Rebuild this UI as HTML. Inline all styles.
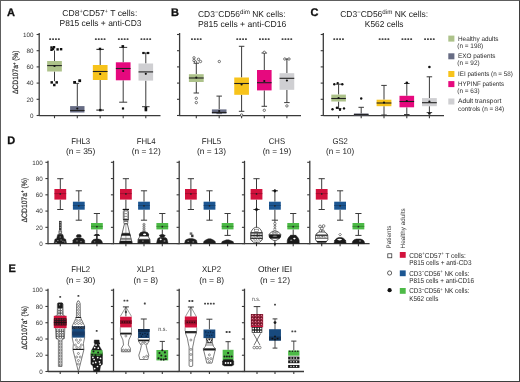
<!DOCTYPE html>
<html><head><meta charset="utf-8"><style>
html,body{margin:0;padding:0;background:#fff;}
body{width:520px;height:382px;overflow:hidden;position:relative;font-family:"Liberation Sans", sans-serif;}
.frame{position:absolute;left:0;top:0;width:518px;height:380px;border:1px solid #5e5e5e;border-right-color:#3e3e3e;border-bottom-color:#3e3e3e;}
svg{position:absolute;left:0;top:0;display:block;text-rendering:geometricPrecision;will-change:transform;}
</style></head><body>
<svg width="520" height="382" viewBox="0 0 520 382" font-family='"Liberation Sans", sans-serif'>
<rect x="0" y="0" width="520" height="382" fill="#fff"/>
<text x="7.0" y="15.7" font-size="11" text-anchor="start" font-weight="bold" fill="#111" stroke="#111" stroke-width="0.3" >A</text>
<text x="170.9" y="16.0" font-size="11" text-anchor="start" font-weight="bold" fill="#111" stroke="#111" stroke-width="0.3" >B</text>
<text x="310.6" y="15.8" font-size="11" text-anchor="start" font-weight="bold" fill="#111" stroke="#111" stroke-width="0.3" >C</text>
<text x="7.2" y="143.8" font-size="11" text-anchor="start" font-weight="bold" fill="#111" stroke="#111" stroke-width="0.3" >D</text>
<text x="8.4" y="271.6" font-size="11" text-anchor="start" font-weight="bold" fill="#111" stroke="#111" stroke-width="0.3" >E</text>
<text x="62.3" y="16.0" font-size="8.6" text-anchor="start" font-weight="normal" fill="#222" textLength="75" lengthAdjust="spacingAndGlyphs" >CD8<tspan dy="-2.9" font-size="5.6">+</tspan><tspan dy="2.9">CD57</tspan><tspan dy="-2.9" font-size="5.6">+</tspan><tspan dy="2.9"> T cells:</tspan></text>
<text x="59.5" y="25.8" font-size="8.6" text-anchor="start" font-weight="normal" fill="#222" textLength="82" lengthAdjust="spacingAndGlyphs" >P815 cells + anti-CD3</text>
<text x="198.0" y="16.5" font-size="8.6" text-anchor="start" font-weight="normal" fill="#222" textLength="87.6" lengthAdjust="spacingAndGlyphs" >CD3<tspan dy="-2.9" font-size="6.0">−</tspan><tspan dy="2.9">CD56</tspan><tspan dy="-2.9" font-size="6.3">dim</tspan><tspan dy="2.9"> NK cells:</tspan></text>
<text x="198.0" y="26.5" font-size="8.6" text-anchor="start" font-weight="normal" fill="#222" textLength="88.2" lengthAdjust="spacingAndGlyphs" >P815 cells + anti-CD16</text>
<text x="340.2" y="16.5" font-size="8.6" text-anchor="start" font-weight="normal" fill="#222" textLength="88" lengthAdjust="spacingAndGlyphs" >CD3<tspan dy="-2.9" font-size="6.0">−</tspan><tspan dy="2.9">CD56</tspan><tspan dy="-2.9" font-size="6.3">dim</tspan><tspan dy="2.9"> NK cells:</tspan></text>
<text x="364.8" y="26.5" font-size="8.6" text-anchor="start" font-weight="normal" fill="#222" textLength="38.7" lengthAdjust="spacingAndGlyphs" >K562 cells</text>
<line x1="39.2" y1="33.0" x2="39.2" y2="116.1" stroke="#3a3a3a" stroke-width="1.3"/>
<line x1="36.6" y1="115.5" x2="39.2" y2="115.5" stroke="#3a3a3a" stroke-width="1.1"/>
<text x="33.6" y="117.7" font-size="6.3" text-anchor="end" font-weight="normal" fill="#333" >0</text>
<line x1="36.6" y1="99.3" x2="39.2" y2="99.3" stroke="#3a3a3a" stroke-width="1.1"/>
<text x="33.6" y="101.5" font-size="6.3" text-anchor="end" font-weight="normal" fill="#333" >20</text>
<line x1="36.6" y1="83.1" x2="39.2" y2="83.1" stroke="#3a3a3a" stroke-width="1.1"/>
<text x="33.6" y="85.3" font-size="6.3" text-anchor="end" font-weight="normal" fill="#333" >40</text>
<line x1="36.6" y1="66.9" x2="39.2" y2="66.9" stroke="#3a3a3a" stroke-width="1.1"/>
<text x="33.6" y="69.10000000000001" font-size="6.3" text-anchor="end" font-weight="normal" fill="#333" >60</text>
<line x1="36.6" y1="50.7" x2="39.2" y2="50.7" stroke="#3a3a3a" stroke-width="1.1"/>
<text x="33.6" y="52.900000000000006" font-size="6.3" text-anchor="end" font-weight="normal" fill="#333" >80</text>
<line x1="36.6" y1="34.5" x2="39.2" y2="34.5" stroke="#3a3a3a" stroke-width="1.1"/>
<text x="33.6" y="36.7" font-size="6.3" text-anchor="end" font-weight="normal" fill="#333" >100</text>
<text transform="translate(18.4,72.2) rotate(-90)" font-size="7.8" text-anchor="middle" fill="#2a2a2a" stroke="#2a2a2a" stroke-width="0.18" textLength="43.4" lengthAdjust="spacingAndGlyphs">ΔCD107a<tspan dy="-2.4" font-size="4.8">+</tspan><tspan dy="2.4"> (%)</tspan></text>
<line x1="39.2" y1="115.6" x2="160.5" y2="115.6" stroke="#3a3a3a" stroke-width="1.4"/>
<line x1="54.5" y1="115.6" x2="54.5" y2="118.19999999999999" stroke="#3a3a3a" stroke-width="1.1"/>
<line x1="77.3" y1="115.6" x2="77.3" y2="118.19999999999999" stroke="#3a3a3a" stroke-width="1.1"/>
<line x1="100.2" y1="115.6" x2="100.2" y2="118.19999999999999" stroke="#3a3a3a" stroke-width="1.1"/>
<line x1="123.2" y1="115.6" x2="123.2" y2="118.19999999999999" stroke="#3a3a3a" stroke-width="1.1"/>
<line x1="145.8" y1="115.6" x2="145.8" y2="118.19999999999999" stroke="#3a3a3a" stroke-width="1.1"/>
<line x1="54.5" y1="50.5" x2="54.5" y2="61.0" stroke="#3a3a3a" stroke-width="1.0"/>
<line x1="54.5" y1="71.5" x2="54.5" y2="81.2" stroke="#3a3a3a" stroke-width="1.0"/>
<rect x="47.15" y="61.0" width="14.7" height="10.5" fill="#adc28a" stroke="none" stroke-width="0"/>
<line x1="47.15" y1="65.6" x2="61.85" y2="65.6" stroke="#222" stroke-width="1.1"/>
<circle cx="54.5" cy="66.0" r="1.1" fill="#111"/>
<line x1="77.3" y1="83.4" x2="77.3" y2="106.1" stroke="#3a3a3a" stroke-width="1.0"/>
<line x1="77.3" y1="112.5" x2="77.3" y2="112.5" stroke="#3a3a3a" stroke-width="1.0"/>
<rect x="70.1" y="106.1" width="14.4" height="6.400000000000006" fill="#676c84" stroke="none" stroke-width="0"/>
<line x1="70.1" y1="110.5" x2="84.5" y2="110.5" stroke="#222" stroke-width="1.1"/>
<circle cx="77.3" cy="108.5" r="1.1" fill="#111"/>
<line x1="100.2" y1="49.0" x2="100.2" y2="65.0" stroke="#3a3a3a" stroke-width="1.0"/>
<line x1="100.2" y1="80.0" x2="100.2" y2="109.5" stroke="#3a3a3a" stroke-width="1.0"/>
<rect x="92.85000000000001" y="65.0" width="14.7" height="15.0" fill="#f7c31b" stroke="none" stroke-width="0"/>
<line x1="92.85000000000001" y1="71.5" x2="107.55" y2="71.5" stroke="#222" stroke-width="1.1"/>
<circle cx="100.2" cy="74.0" r="1.1" fill="#111"/>
<line x1="123.2" y1="47.4" x2="123.2" y2="62.3" stroke="#3a3a3a" stroke-width="1.0"/>
<line x1="123.2" y1="80.3" x2="123.2" y2="102.2" stroke="#3a3a3a" stroke-width="1.0"/>
<line x1="119.2" y1="47.4" x2="127.2" y2="47.4" stroke="#3a3a3a" stroke-width="1.0"/>
<line x1="119.2" y1="102.2" x2="127.2" y2="102.2" stroke="#3a3a3a" stroke-width="1.0"/>
<rect x="115.85000000000001" y="62.3" width="14.7" height="18.0" fill="#e6097e" stroke="none" stroke-width="0"/>
<line x1="115.85000000000001" y1="68.5" x2="130.55" y2="68.5" stroke="#222" stroke-width="1.1"/>
<circle cx="123.2" cy="71.0" r="1.1" fill="#111"/>
<line x1="145.8" y1="53.0" x2="145.8" y2="63.5" stroke="#3a3a3a" stroke-width="1.0"/>
<line x1="145.8" y1="80.6" x2="145.8" y2="106.7" stroke="#3a3a3a" stroke-width="1.0"/>
<line x1="142.0" y1="53.0" x2="149.60000000000002" y2="53.0" stroke="#3a3a3a" stroke-width="1.0"/>
<line x1="142.0" y1="106.7" x2="149.60000000000002" y2="106.7" stroke="#3a3a3a" stroke-width="1.0"/>
<rect x="138.5" y="63.5" width="14.6" height="17.099999999999994" fill="#cfcfd2" stroke="none" stroke-width="0"/>
<line x1="138.5" y1="71.9" x2="153.10000000000002" y2="71.9" stroke="#222" stroke-width="1.1"/>
<circle cx="145.8" cy="73.8" r="1.1" fill="#111"/>
<rect x="50.3" y="46.3" width="2.4" height="2.4" fill="#111"/>
<rect x="51.8" y="47.8" width="2.4" height="2.4" fill="#111"/>
<rect x="50.3" y="48.599999999999994" width="2.4" height="2.4" fill="#111"/>
<rect x="52.8" y="46.0" width="2.4" height="2.4" fill="#111"/>
<rect x="56.4" y="48.199999999999996" width="2.4" height="2.4" fill="#111"/>
<rect x="59.9" y="48.0" width="2.4" height="2.4" fill="#111"/>
<rect x="50.45" y="81.15" width="2.5" height="2.5" fill="#111"/>
<rect x="55.45" y="81.15" width="2.5" height="2.5" fill="#111"/>
<rect x="53.05" y="83.75" width="2.5" height="2.5" fill="#111"/>
<rect x="73.19999999999999" y="81.0" width="2.8" height="2.8" fill="#111"/>
<rect x="78.3" y="79.3" width="2.8" height="2.8" fill="#111"/>
<line x1="75.9" y1="83.4" x2="79.1" y2="83.4" stroke="#3a3a3a" stroke-width="0.9"/>
<line x1="96.4" y1="49.4" x2="103.8" y2="49.4" stroke="#3a3a3a" stroke-width="1.2"/>
<rect x="98.8" y="47.699999999999996" width="2.4" height="2.4" fill="#111"/>
<line x1="96.3" y1="110.1" x2="104.0" y2="110.1" stroke="#3a3a3a" stroke-width="1.2"/>
<rect x="99.1" y="108.89999999999999" width="2.4" height="2.4" fill="#111"/>
<rect x="121.5" y="45.1" width="2.6" height="2.6" fill="#111"/>
<rect x="121.9" y="107.4" width="2.2" height="2.2" fill="#111"/>
<rect x="142.4" y="51.9" width="2.2" height="2.2" fill="#111"/>
<rect x="146.9" y="51.9" width="2.2" height="2.2" fill="#111"/>
<rect x="144.6" y="106.7" width="2.6" height="2.6" fill="#111"/>
<rect x="144.6" y="108.7" width="2.6" height="2.6" fill="#111"/>
<rect x="49.20" y="38.30" width="1.9" height="1.8" rx="0.5" fill="#464646"/>
<rect x="52.10" y="38.30" width="1.9" height="1.8" rx="0.5" fill="#464646"/>
<rect x="55.00" y="38.30" width="1.9" height="1.8" rx="0.5" fill="#464646"/>
<rect x="57.90" y="38.30" width="1.9" height="1.8" rx="0.5" fill="#464646"/>
<rect x="94.90" y="38.30" width="1.9" height="1.8" rx="0.5" fill="#464646"/>
<rect x="97.80" y="38.30" width="1.9" height="1.8" rx="0.5" fill="#464646"/>
<rect x="100.70" y="38.30" width="1.9" height="1.8" rx="0.5" fill="#464646"/>
<rect x="103.60" y="38.30" width="1.9" height="1.8" rx="0.5" fill="#464646"/>
<rect x="117.90" y="38.30" width="1.9" height="1.8" rx="0.5" fill="#464646"/>
<rect x="120.80" y="38.30" width="1.9" height="1.8" rx="0.5" fill="#464646"/>
<rect x="123.70" y="38.30" width="1.9" height="1.8" rx="0.5" fill="#464646"/>
<rect x="126.60" y="38.30" width="1.9" height="1.8" rx="0.5" fill="#464646"/>
<rect x="140.50" y="38.30" width="1.9" height="1.8" rx="0.5" fill="#464646"/>
<rect x="143.40" y="38.30" width="1.9" height="1.8" rx="0.5" fill="#464646"/>
<rect x="146.30" y="38.30" width="1.9" height="1.8" rx="0.5" fill="#464646"/>
<rect x="149.20" y="38.30" width="1.9" height="1.8" rx="0.5" fill="#464646"/>
<line x1="179.6" y1="33.0" x2="179.6" y2="116.1" stroke="#3a3a3a" stroke-width="1.3"/>
<line x1="177.0" y1="115.5" x2="179.6" y2="115.5" stroke="#3a3a3a" stroke-width="1.1"/>
<line x1="177.0" y1="99.3" x2="179.6" y2="99.3" stroke="#3a3a3a" stroke-width="1.1"/>
<line x1="177.0" y1="83.1" x2="179.6" y2="83.1" stroke="#3a3a3a" stroke-width="1.1"/>
<line x1="177.0" y1="66.9" x2="179.6" y2="66.9" stroke="#3a3a3a" stroke-width="1.1"/>
<line x1="177.0" y1="50.7" x2="179.6" y2="50.7" stroke="#3a3a3a" stroke-width="1.1"/>
<line x1="177.0" y1="34.5" x2="179.6" y2="34.5" stroke="#3a3a3a" stroke-width="1.1"/>
<line x1="179.6" y1="115.6" x2="301.0" y2="115.6" stroke="#3a3a3a" stroke-width="1.4"/>
<line x1="196.3" y1="115.6" x2="196.3" y2="118.19999999999999" stroke="#3a3a3a" stroke-width="1.1"/>
<line x1="219.2" y1="115.6" x2="219.2" y2="118.19999999999999" stroke="#3a3a3a" stroke-width="1.1"/>
<line x1="241.6" y1="115.6" x2="241.6" y2="118.19999999999999" stroke="#3a3a3a" stroke-width="1.1"/>
<line x1="264.3" y1="115.6" x2="264.3" y2="118.19999999999999" stroke="#3a3a3a" stroke-width="1.1"/>
<line x1="286.9" y1="115.6" x2="286.9" y2="118.19999999999999" stroke="#3a3a3a" stroke-width="1.1"/>
<line x1="196.3" y1="63.2" x2="196.3" y2="74.2" stroke="#3a3a3a" stroke-width="1.0"/>
<line x1="196.3" y1="82.0" x2="196.3" y2="93.0" stroke="#3a3a3a" stroke-width="1.0"/>
<line x1="193.55" y1="63.2" x2="199.05" y2="63.2" stroke="#3a3a3a" stroke-width="1.0"/>
<line x1="193.55" y1="93.0" x2="199.05" y2="93.0" stroke="#3a3a3a" stroke-width="1.0"/>
<rect x="188.9" y="74.2" width="14.8" height="7.799999999999997" fill="#adc28a" stroke="none" stroke-width="0"/>
<line x1="188.9" y1="78.0" x2="203.70000000000002" y2="78.0" stroke="#222" stroke-width="1.1"/>
<circle cx="196.3" cy="77.6" r="1.1" fill="#111"/>
<line x1="219.2" y1="96.1" x2="219.2" y2="109.4" stroke="#3a3a3a" stroke-width="1.0"/>
<line x1="219.2" y1="113.6" x2="219.2" y2="113.6" stroke="#3a3a3a" stroke-width="1.0"/>
<line x1="216.45" y1="96.1" x2="221.95" y2="96.1" stroke="#3a3a3a" stroke-width="1.0"/>
<line x1="216.45" y1="113.6" x2="221.95" y2="113.6" stroke="#3a3a3a" stroke-width="1.0"/>
<rect x="211.89999999999998" y="109.4" width="14.6" height="4.199999999999989" fill="#676c84" stroke="none" stroke-width="0"/>
<line x1="211.89999999999998" y1="112.5" x2="226.5" y2="112.5" stroke="#222" stroke-width="1.1"/>
<circle cx="219.2" cy="111.0" r="1.1" fill="#111"/>
<line x1="241.6" y1="46.3" x2="241.6" y2="77.5" stroke="#3a3a3a" stroke-width="1.0"/>
<line x1="241.6" y1="94.8" x2="241.6" y2="111.3" stroke="#3a3a3a" stroke-width="1.0"/>
<line x1="238.85" y1="46.3" x2="244.35" y2="46.3" stroke="#3a3a3a" stroke-width="1.0"/>
<line x1="238.85" y1="111.3" x2="244.35" y2="111.3" stroke="#3a3a3a" stroke-width="1.0"/>
<rect x="234.25" y="77.5" width="14.7" height="17.299999999999997" fill="#f7c31b" stroke="none" stroke-width="0"/>
<line x1="234.25" y1="83.5" x2="248.95" y2="83.5" stroke="#222" stroke-width="1.1"/>
<circle cx="241.6" cy="84.5" r="1.1" fill="#111"/>
<line x1="264.3" y1="53.0" x2="264.3" y2="70.0" stroke="#3a3a3a" stroke-width="1.0"/>
<line x1="264.3" y1="90.4" x2="264.3" y2="106.3" stroke="#3a3a3a" stroke-width="1.0"/>
<line x1="261.55" y1="53.0" x2="267.05" y2="53.0" stroke="#3a3a3a" stroke-width="1.0"/>
<line x1="261.55" y1="106.3" x2="267.05" y2="106.3" stroke="#3a3a3a" stroke-width="1.0"/>
<rect x="257.0" y="70.0" width="14.6" height="20.400000000000006" fill="#e6097e" stroke="none" stroke-width="0"/>
<line x1="257.0" y1="82.7" x2="271.6" y2="82.7" stroke="#222" stroke-width="1.1"/>
<circle cx="264.3" cy="81.0" r="1.1" fill="#111"/>
<line x1="286.9" y1="59.0" x2="286.9" y2="73.2" stroke="#3a3a3a" stroke-width="1.0"/>
<line x1="286.9" y1="89.8" x2="286.9" y2="102.6" stroke="#3a3a3a" stroke-width="1.0"/>
<line x1="284.15" y1="59.0" x2="289.65" y2="59.0" stroke="#3a3a3a" stroke-width="1.0"/>
<line x1="284.15" y1="102.6" x2="289.65" y2="102.6" stroke="#3a3a3a" stroke-width="1.0"/>
<rect x="279.54999999999995" y="73.2" width="14.7" height="16.599999999999994" fill="#cfcfd2" stroke="none" stroke-width="0"/>
<line x1="279.54999999999995" y1="78.3" x2="294.25" y2="78.3" stroke="#222" stroke-width="1.1"/>
<circle cx="286.9" cy="80.5" r="1.1" fill="#111"/>
<circle cx="194" cy="57.8" r="1.2" fill="white" stroke="#222" stroke-width="0.6"/>
<circle cx="194" cy="60.5" r="1.2" fill="white" stroke="#222" stroke-width="0.6"/>
<circle cx="198.5" cy="59.3" r="1.2" fill="white" stroke="#222" stroke-width="0.6"/>
<circle cx="200.5" cy="61.5" r="1.2" fill="white" stroke="#222" stroke-width="0.6"/>
<circle cx="195.5" cy="62.0" r="1.2" fill="white" stroke="#222" stroke-width="0.6"/>
<circle cx="196.3" cy="98.3" r="1.2" fill="white" stroke="#222" stroke-width="0.6"/>
<circle cx="196.3" cy="102.6" r="1.2" fill="white" stroke="#222" stroke-width="0.6"/>
<circle cx="219.3" cy="61.5" r="1.2" fill="white" stroke="#222" stroke-width="0.6"/>
<circle cx="241.6" cy="115.0" r="1.2" fill="white" stroke="#222" stroke-width="0.6"/>
<circle cx="264.3" cy="52.3" r="1.2" fill="white" stroke="#222" stroke-width="0.6"/>
<circle cx="264.3" cy="110.3" r="1.2" fill="white" stroke="#222" stroke-width="0.6"/>
<circle cx="286.9" cy="105.9" r="1.2" fill="white" stroke="#222" stroke-width="0.6"/>
<circle cx="284.8" cy="59" r="1.2" fill="white" stroke="#222" stroke-width="0.6"/>
<circle cx="289" cy="59" r="1.2" fill="white" stroke="#222" stroke-width="0.6"/>
<rect x="191.00" y="38.30" width="1.9" height="1.8" rx="0.5" fill="#464646"/>
<rect x="193.90" y="38.30" width="1.9" height="1.8" rx="0.5" fill="#464646"/>
<rect x="196.80" y="38.30" width="1.9" height="1.8" rx="0.5" fill="#464646"/>
<rect x="199.70" y="38.30" width="1.9" height="1.8" rx="0.5" fill="#464646"/>
<rect x="236.30" y="38.30" width="1.9" height="1.8" rx="0.5" fill="#464646"/>
<rect x="239.20" y="38.30" width="1.9" height="1.8" rx="0.5" fill="#464646"/>
<rect x="242.10" y="38.30" width="1.9" height="1.8" rx="0.5" fill="#464646"/>
<rect x="245.00" y="38.30" width="1.9" height="1.8" rx="0.5" fill="#464646"/>
<rect x="259.00" y="38.30" width="1.9" height="1.8" rx="0.5" fill="#464646"/>
<rect x="261.90" y="38.30" width="1.9" height="1.8" rx="0.5" fill="#464646"/>
<rect x="264.80" y="38.30" width="1.9" height="1.8" rx="0.5" fill="#464646"/>
<rect x="267.70" y="38.30" width="1.9" height="1.8" rx="0.5" fill="#464646"/>
<rect x="281.60" y="38.30" width="1.9" height="1.8" rx="0.5" fill="#464646"/>
<rect x="284.50" y="38.30" width="1.9" height="1.8" rx="0.5" fill="#464646"/>
<rect x="287.40" y="38.30" width="1.9" height="1.8" rx="0.5" fill="#464646"/>
<rect x="290.30" y="38.30" width="1.9" height="1.8" rx="0.5" fill="#464646"/>
<line x1="323.3" y1="33.0" x2="323.3" y2="116.1" stroke="#3a3a3a" stroke-width="1.3"/>
<line x1="320.7" y1="115.5" x2="323.3" y2="115.5" stroke="#3a3a3a" stroke-width="1.1"/>
<line x1="320.7" y1="99.3" x2="323.3" y2="99.3" stroke="#3a3a3a" stroke-width="1.1"/>
<line x1="320.7" y1="83.1" x2="323.3" y2="83.1" stroke="#3a3a3a" stroke-width="1.1"/>
<line x1="320.7" y1="66.9" x2="323.3" y2="66.9" stroke="#3a3a3a" stroke-width="1.1"/>
<line x1="320.7" y1="50.7" x2="323.3" y2="50.7" stroke="#3a3a3a" stroke-width="1.1"/>
<line x1="320.7" y1="34.5" x2="323.3" y2="34.5" stroke="#3a3a3a" stroke-width="1.1"/>
<line x1="323.3" y1="115.6" x2="444.0" y2="115.6" stroke="#3a3a3a" stroke-width="1.4"/>
<line x1="338.6" y1="115.6" x2="338.6" y2="118.19999999999999" stroke="#3a3a3a" stroke-width="1.1"/>
<line x1="361.2" y1="115.6" x2="361.2" y2="118.19999999999999" stroke="#3a3a3a" stroke-width="1.1"/>
<line x1="384.0" y1="115.6" x2="384.0" y2="118.19999999999999" stroke="#3a3a3a" stroke-width="1.1"/>
<line x1="406.8" y1="115.6" x2="406.8" y2="118.19999999999999" stroke="#3a3a3a" stroke-width="1.1"/>
<line x1="429.4" y1="115.6" x2="429.4" y2="118.19999999999999" stroke="#3a3a3a" stroke-width="1.1"/>
<line x1="338.6" y1="84.2" x2="338.6" y2="94.6" stroke="#3a3a3a" stroke-width="1.0"/>
<line x1="338.6" y1="101.5" x2="338.6" y2="108.5" stroke="#3a3a3a" stroke-width="1.0"/>
<line x1="335.85" y1="84.2" x2="341.35" y2="84.2" stroke="#3a3a3a" stroke-width="1.0"/>
<line x1="335.85" y1="108.5" x2="341.35" y2="108.5" stroke="#3a3a3a" stroke-width="1.0"/>
<rect x="331.3" y="94.6" width="14.6" height="6.900000000000006" fill="#adc28a" stroke="none" stroke-width="0"/>
<line x1="331.3" y1="98.5" x2="345.90000000000003" y2="98.5" stroke="#222" stroke-width="1.1"/>
<circle cx="338.6" cy="98.0" r="1.1" fill="#111"/>
<line x1="361.2" y1="107.3" x2="361.2" y2="113.6" stroke="#3a3a3a" stroke-width="1.0"/>
<line x1="361.2" y1="115.3" x2="361.2" y2="115.3" stroke="#3a3a3a" stroke-width="1.0"/>
<line x1="358.45" y1="107.3" x2="363.95" y2="107.3" stroke="#3a3a3a" stroke-width="1.0"/>
<line x1="358.45" y1="115.3" x2="363.95" y2="115.3" stroke="#3a3a3a" stroke-width="1.0"/>
<rect x="353.9" y="113.6" width="14.6" height="1.7000000000000028" fill="#676c84" stroke="none" stroke-width="0"/>
<line x1="353.9" y1="114.4" x2="368.5" y2="114.4" stroke="#222" stroke-width="1.1"/>
<line x1="384.0" y1="85.4" x2="384.0" y2="99.7" stroke="#3a3a3a" stroke-width="1.0"/>
<line x1="384.0" y1="106.2" x2="384.0" y2="115.0" stroke="#3a3a3a" stroke-width="1.0"/>
<line x1="381.25" y1="85.4" x2="386.75" y2="85.4" stroke="#3a3a3a" stroke-width="1.0"/>
<line x1="381.25" y1="115.0" x2="386.75" y2="115.0" stroke="#3a3a3a" stroke-width="1.0"/>
<rect x="376.6" y="99.7" width="14.8" height="6.5" fill="#f7c31b" stroke="none" stroke-width="0"/>
<line x1="376.6" y1="103.0" x2="391.4" y2="103.0" stroke="#222" stroke-width="1.1"/>
<circle cx="384.0" cy="102.6" r="1.1" fill="#111"/>
<line x1="406.8" y1="83.5" x2="406.8" y2="95.8" stroke="#3a3a3a" stroke-width="1.0"/>
<line x1="406.8" y1="107.3" x2="406.8" y2="114.5" stroke="#3a3a3a" stroke-width="1.0"/>
<line x1="404.05" y1="83.5" x2="409.55" y2="83.5" stroke="#3a3a3a" stroke-width="1.0"/>
<line x1="404.05" y1="114.5" x2="409.55" y2="114.5" stroke="#3a3a3a" stroke-width="1.0"/>
<rect x="399.5" y="95.8" width="14.6" height="11.5" fill="#e6097e" stroke="none" stroke-width="0"/>
<line x1="399.5" y1="101.5" x2="414.1" y2="101.5" stroke="#222" stroke-width="1.1"/>
<circle cx="406.8" cy="101.0" r="1.1" fill="#111"/>
<line x1="429.4" y1="76.8" x2="429.4" y2="98.1" stroke="#3a3a3a" stroke-width="1.0"/>
<line x1="429.4" y1="106.2" x2="429.4" y2="112.6" stroke="#3a3a3a" stroke-width="1.0"/>
<line x1="426.65" y1="76.8" x2="432.15" y2="76.8" stroke="#3a3a3a" stroke-width="1.0"/>
<line x1="426.65" y1="112.6" x2="432.15" y2="112.6" stroke="#3a3a3a" stroke-width="1.0"/>
<rect x="422.0" y="98.1" width="14.8" height="8.100000000000009" fill="#cfcfd2" stroke="none" stroke-width="0"/>
<line x1="422.0" y1="102.7" x2="436.79999999999995" y2="102.7" stroke="#222" stroke-width="1.1"/>
<circle cx="429.4" cy="101.6" r="1.1" fill="#111"/>
<circle cx="334.3" cy="84.2" r="1.2" fill="#111"/>
<circle cx="337.7" cy="83.1" r="1.2" fill="#111"/>
<circle cx="342.3" cy="84.2" r="1.2" fill="#111"/>
<circle cx="332.5" cy="109.2" r="1.2" fill="#111"/>
<circle cx="337" cy="107.6" r="1.2" fill="#111"/>
<circle cx="340" cy="109.8" r="1.2" fill="#111"/>
<circle cx="344" cy="108.4" r="1.2" fill="#111"/>
<circle cx="361.2" cy="98.5" r="1.2" fill="#111"/>
<circle cx="406.8" cy="82.7" r="1.3" fill="#111"/>
<circle cx="429.4" cy="67.0" r="1.3" fill="#111"/>
<circle cx="429.4" cy="113.5" r="1.3" fill="#111"/>
<rect x="333.30" y="38.30" width="1.9" height="1.8" rx="0.5" fill="#464646"/>
<rect x="336.20" y="38.30" width="1.9" height="1.8" rx="0.5" fill="#464646"/>
<rect x="339.10" y="38.30" width="1.9" height="1.8" rx="0.5" fill="#464646"/>
<rect x="342.00" y="38.30" width="1.9" height="1.8" rx="0.5" fill="#464646"/>
<rect x="378.70" y="38.30" width="1.9" height="1.8" rx="0.5" fill="#464646"/>
<rect x="381.60" y="38.30" width="1.9" height="1.8" rx="0.5" fill="#464646"/>
<rect x="384.50" y="38.30" width="1.9" height="1.8" rx="0.5" fill="#464646"/>
<rect x="387.40" y="38.30" width="1.9" height="1.8" rx="0.5" fill="#464646"/>
<rect x="401.50" y="38.30" width="1.9" height="1.8" rx="0.5" fill="#464646"/>
<rect x="404.40" y="38.30" width="1.9" height="1.8" rx="0.5" fill="#464646"/>
<rect x="407.30" y="38.30" width="1.9" height="1.8" rx="0.5" fill="#464646"/>
<rect x="410.20" y="38.30" width="1.9" height="1.8" rx="0.5" fill="#464646"/>
<rect x="424.10" y="38.30" width="1.9" height="1.8" rx="0.5" fill="#464646"/>
<rect x="427.00" y="38.30" width="1.9" height="1.8" rx="0.5" fill="#464646"/>
<rect x="429.90" y="38.30" width="1.9" height="1.8" rx="0.5" fill="#464646"/>
<rect x="432.80" y="38.30" width="1.9" height="1.8" rx="0.5" fill="#464646"/>
<rect x="448.3" y="35.6" width="6.1" height="6.0" fill="#adc28a" stroke="none" stroke-width="0"/>
<text x="458.0" y="40.5" font-size="6.6" text-anchor="start" font-weight="normal" fill="#2a2a2a" textLength="40.4" lengthAdjust="spacingAndGlyphs" >Healthy adults</text>
<text x="457.3" y="47.7" font-size="6.6" text-anchor="start" font-weight="normal" fill="#2a2a2a" textLength="25.9" lengthAdjust="spacingAndGlyphs" >(n = 198)</text>
<rect x="448.3" y="53.3" width="6.1" height="6.0" fill="#676c84" stroke="none" stroke-width="0"/>
<text x="458.0" y="58.199999999999996" font-size="6.6" text-anchor="start" font-weight="normal" fill="#2a2a2a" textLength="37.5" lengthAdjust="spacingAndGlyphs" >EXO patients</text>
<text x="457.3" y="65.39999999999999" font-size="6.6" text-anchor="start" font-weight="normal" fill="#2a2a2a" textLength="22.3" lengthAdjust="spacingAndGlyphs" >(n = 92)</text>
<rect x="448.3" y="71.0" width="6.1" height="6.0" fill="#f7c31b" stroke="none" stroke-width="0"/>
<text x="458.0" y="75.9" font-size="6.6" text-anchor="start" font-weight="normal" fill="#2a2a2a" textLength="54.8" lengthAdjust="spacingAndGlyphs" >IEI patients (n = 58)</text>
<rect x="448.3" y="81.1" width="6.1" height="6.0" fill="#e6097e" stroke="none" stroke-width="0"/>
<text x="458.0" y="86.0" font-size="6.6" text-anchor="start" font-weight="normal" fill="#2a2a2a" textLength="46.1" lengthAdjust="spacingAndGlyphs" >HYPINF patients</text>
<text x="457.3" y="93.2" font-size="6.6" text-anchor="start" font-weight="normal" fill="#2a2a2a" textLength="22.3" lengthAdjust="spacingAndGlyphs" >(n = 63)</text>
<rect x="448.3" y="98.5" width="6.1" height="6.0" fill="#cfcfd2" stroke="none" stroke-width="0"/>
<text x="458.0" y="103.4" font-size="6.6" text-anchor="start" font-weight="normal" fill="#2a2a2a" textLength="43.3" lengthAdjust="spacingAndGlyphs" >Adult transport</text>
<text x="458.0" y="110.60000000000001" font-size="6.6" text-anchor="start" font-weight="normal" fill="#2a2a2a" textLength="46.1" lengthAdjust="spacingAndGlyphs" >controls (n = 84)</text>
<line x1="48.0" y1="160.8" x2="48.0" y2="244.2" stroke="#3a3a3a" stroke-width="1.3"/>
<line x1="45.4" y1="243.6" x2="48.0" y2="243.6" stroke="#3a3a3a" stroke-width="1.1"/>
<text x="42.8" y="245.79999999999998" font-size="6.3" text-anchor="end" font-weight="normal" fill="#333" >0</text>
<line x1="45.4" y1="227.34" x2="48.0" y2="227.34" stroke="#3a3a3a" stroke-width="1.1"/>
<text x="42.8" y="229.54" font-size="6.3" text-anchor="end" font-weight="normal" fill="#333" >20</text>
<line x1="45.4" y1="211.07999999999998" x2="48.0" y2="211.07999999999998" stroke="#3a3a3a" stroke-width="1.1"/>
<text x="42.8" y="213.27999999999997" font-size="6.3" text-anchor="end" font-weight="normal" fill="#333" >40</text>
<line x1="45.4" y1="194.82" x2="48.0" y2="194.82" stroke="#3a3a3a" stroke-width="1.1"/>
<text x="42.8" y="197.01999999999998" font-size="6.3" text-anchor="end" font-weight="normal" fill="#333" >60</text>
<line x1="45.4" y1="178.56" x2="48.0" y2="178.56" stroke="#3a3a3a" stroke-width="1.1"/>
<text x="42.8" y="180.76" font-size="6.3" text-anchor="end" font-weight="normal" fill="#333" >80</text>
<line x1="45.4" y1="162.3" x2="48.0" y2="162.3" stroke="#3a3a3a" stroke-width="1.1"/>
<text x="42.8" y="164.5" font-size="6.3" text-anchor="end" font-weight="normal" fill="#333" >100</text>
<line x1="48.0" y1="243.6" x2="113.5" y2="243.6" stroke="#3a3a3a" stroke-width="1.4"/>
<line x1="60.3" y1="243.6" x2="60.3" y2="246.2" stroke="#3a3a3a" stroke-width="1.1"/>
<line x1="78.8" y1="243.6" x2="78.8" y2="246.2" stroke="#3a3a3a" stroke-width="1.1"/>
<line x1="96.9" y1="243.6" x2="96.9" y2="246.2" stroke="#3a3a3a" stroke-width="1.1"/>
<text x="80.7" y="144.1" font-size="8.4" text-anchor="middle" font-weight="normal" fill="#222" textLength="19.0" lengthAdjust="spacingAndGlyphs" >FHL3</text>
<text x="80.7" y="154.4" font-size="8.4" text-anchor="middle" font-weight="normal" fill="#222" textLength="29.4" lengthAdjust="spacingAndGlyphs" >(n = 35)</text>
<line x1="113.5" y1="160.8" x2="113.5" y2="244.2" stroke="#3a3a3a" stroke-width="1.3"/>
<line x1="110.9" y1="243.6" x2="113.5" y2="243.6" stroke="#3a3a3a" stroke-width="1.1"/>
<line x1="110.9" y1="227.34" x2="113.5" y2="227.34" stroke="#3a3a3a" stroke-width="1.1"/>
<line x1="110.9" y1="211.07999999999998" x2="113.5" y2="211.07999999999998" stroke="#3a3a3a" stroke-width="1.1"/>
<line x1="110.9" y1="194.82" x2="113.5" y2="194.82" stroke="#3a3a3a" stroke-width="1.1"/>
<line x1="110.9" y1="178.56" x2="113.5" y2="178.56" stroke="#3a3a3a" stroke-width="1.1"/>
<line x1="110.9" y1="162.3" x2="113.5" y2="162.3" stroke="#3a3a3a" stroke-width="1.1"/>
<line x1="113.5" y1="243.6" x2="179.2" y2="243.6" stroke="#3a3a3a" stroke-width="1.4"/>
<line x1="125.9" y1="243.6" x2="125.9" y2="246.2" stroke="#3a3a3a" stroke-width="1.1"/>
<line x1="144.0" y1="243.6" x2="144.0" y2="246.2" stroke="#3a3a3a" stroke-width="1.1"/>
<line x1="162.3" y1="243.6" x2="162.3" y2="246.2" stroke="#3a3a3a" stroke-width="1.1"/>
<text x="146.2" y="144.1" font-size="8.4" text-anchor="middle" font-weight="normal" fill="#222" textLength="19.0" lengthAdjust="spacingAndGlyphs" >FHL4</text>
<text x="146.2" y="154.4" font-size="8.4" text-anchor="middle" font-weight="normal" fill="#222" textLength="29.0" lengthAdjust="spacingAndGlyphs" >(n = 12)</text>
<line x1="179.2" y1="160.8" x2="179.2" y2="244.2" stroke="#3a3a3a" stroke-width="1.3"/>
<line x1="176.6" y1="243.6" x2="179.2" y2="243.6" stroke="#3a3a3a" stroke-width="1.1"/>
<line x1="176.6" y1="227.34" x2="179.2" y2="227.34" stroke="#3a3a3a" stroke-width="1.1"/>
<line x1="176.6" y1="211.07999999999998" x2="179.2" y2="211.07999999999998" stroke="#3a3a3a" stroke-width="1.1"/>
<line x1="176.6" y1="194.82" x2="179.2" y2="194.82" stroke="#3a3a3a" stroke-width="1.1"/>
<line x1="176.6" y1="178.56" x2="179.2" y2="178.56" stroke="#3a3a3a" stroke-width="1.1"/>
<line x1="176.6" y1="162.3" x2="179.2" y2="162.3" stroke="#3a3a3a" stroke-width="1.1"/>
<line x1="179.2" y1="243.6" x2="244.5" y2="243.6" stroke="#3a3a3a" stroke-width="1.4"/>
<line x1="190.9" y1="243.6" x2="190.9" y2="246.2" stroke="#3a3a3a" stroke-width="1.1"/>
<line x1="209.5" y1="243.6" x2="209.5" y2="246.2" stroke="#3a3a3a" stroke-width="1.1"/>
<line x1="227.6" y1="243.6" x2="227.6" y2="246.2" stroke="#3a3a3a" stroke-width="1.1"/>
<text x="211.5" y="144.1" font-size="8.4" text-anchor="middle" font-weight="normal" fill="#222" textLength="19.3" lengthAdjust="spacingAndGlyphs" >FHL5</text>
<text x="211.5" y="154.4" font-size="8.4" text-anchor="middle" font-weight="normal" fill="#222" textLength="28.9" lengthAdjust="spacingAndGlyphs" >(n = 13)</text>
<line x1="244.5" y1="160.8" x2="244.5" y2="244.2" stroke="#3a3a3a" stroke-width="1.3"/>
<line x1="241.9" y1="243.6" x2="244.5" y2="243.6" stroke="#3a3a3a" stroke-width="1.1"/>
<line x1="241.9" y1="227.34" x2="244.5" y2="227.34" stroke="#3a3a3a" stroke-width="1.1"/>
<line x1="241.9" y1="211.07999999999998" x2="244.5" y2="211.07999999999998" stroke="#3a3a3a" stroke-width="1.1"/>
<line x1="241.9" y1="194.82" x2="244.5" y2="194.82" stroke="#3a3a3a" stroke-width="1.1"/>
<line x1="241.9" y1="178.56" x2="244.5" y2="178.56" stroke="#3a3a3a" stroke-width="1.1"/>
<line x1="241.9" y1="162.3" x2="244.5" y2="162.3" stroke="#3a3a3a" stroke-width="1.1"/>
<line x1="244.5" y1="243.6" x2="309.8" y2="243.6" stroke="#3a3a3a" stroke-width="1.4"/>
<line x1="256.5" y1="243.6" x2="256.5" y2="246.2" stroke="#3a3a3a" stroke-width="1.1"/>
<line x1="274.9" y1="243.6" x2="274.9" y2="246.2" stroke="#3a3a3a" stroke-width="1.1"/>
<line x1="293.2" y1="243.6" x2="293.2" y2="246.2" stroke="#3a3a3a" stroke-width="1.1"/>
<text x="276.9" y="144.1" font-size="8.4" text-anchor="middle" font-weight="normal" fill="#222" textLength="16.2" lengthAdjust="spacingAndGlyphs" >CHS</text>
<text x="276.9" y="154.4" font-size="8.4" text-anchor="middle" font-weight="normal" fill="#222" textLength="28.5" lengthAdjust="spacingAndGlyphs" >(n = 19)</text>
<line x1="309.8" y1="160.8" x2="309.8" y2="244.2" stroke="#3a3a3a" stroke-width="1.3"/>
<line x1="307.2" y1="243.6" x2="309.8" y2="243.6" stroke="#3a3a3a" stroke-width="1.1"/>
<line x1="307.2" y1="227.34" x2="309.8" y2="227.34" stroke="#3a3a3a" stroke-width="1.1"/>
<line x1="307.2" y1="211.07999999999998" x2="309.8" y2="211.07999999999998" stroke="#3a3a3a" stroke-width="1.1"/>
<line x1="307.2" y1="194.82" x2="309.8" y2="194.82" stroke="#3a3a3a" stroke-width="1.1"/>
<line x1="307.2" y1="178.56" x2="309.8" y2="178.56" stroke="#3a3a3a" stroke-width="1.1"/>
<line x1="307.2" y1="162.3" x2="309.8" y2="162.3" stroke="#3a3a3a" stroke-width="1.1"/>
<line x1="309.8" y1="243.6" x2="369.6" y2="243.6" stroke="#3a3a3a" stroke-width="1.4"/>
<line x1="321.7" y1="243.6" x2="321.7" y2="246.2" stroke="#3a3a3a" stroke-width="1.1"/>
<line x1="340.1" y1="243.6" x2="340.1" y2="246.2" stroke="#3a3a3a" stroke-width="1.1"/>
<line x1="358.4" y1="243.6" x2="358.4" y2="246.2" stroke="#3a3a3a" stroke-width="1.1"/>
<text x="340.1" y="144.1" font-size="8.4" text-anchor="middle" font-weight="normal" fill="#222" textLength="15.4" lengthAdjust="spacingAndGlyphs" >GS2</text>
<text x="340.1" y="154.4" font-size="8.4" text-anchor="middle" font-weight="normal" fill="#222" textLength="28.0" lengthAdjust="spacingAndGlyphs" >(n = 10)</text>
<line x1="60.3" y1="178.7" x2="60.3" y2="189.0" stroke="#3a3a3a" stroke-width="1.0"/>
<line x1="60.3" y1="199.6" x2="60.3" y2="209.5" stroke="#3a3a3a" stroke-width="1.0"/>
<line x1="57.199999999999996" y1="178.7" x2="63.4" y2="178.7" stroke="#3a3a3a" stroke-width="1.0"/>
<line x1="57.199999999999996" y1="209.5" x2="63.4" y2="209.5" stroke="#3a3a3a" stroke-width="1.0"/>
<rect x="54.4" y="189.0" width="11.8" height="10.599999999999994" fill="#d2123d" stroke="none" stroke-width="0"/>
<line x1="54.4" y1="193.6" x2="66.2" y2="193.6" stroke="#8e0c2a" stroke-width="0.7"/>
<circle cx="60.3" cy="193.9" r="0.85" fill="#222"/>
<line x1="78.8" y1="190.8" x2="78.8" y2="201.7" stroke="#3a3a3a" stroke-width="1.0"/>
<line x1="78.8" y1="209.7" x2="78.8" y2="220.2" stroke="#3a3a3a" stroke-width="1.0"/>
<line x1="75.7" y1="190.8" x2="81.89999999999999" y2="190.8" stroke="#3a3a3a" stroke-width="1.0"/>
<line x1="75.7" y1="220.2" x2="81.89999999999999" y2="220.2" stroke="#3a3a3a" stroke-width="1.0"/>
<rect x="72.89999999999999" y="201.7" width="11.8" height="8.0" fill="#1c5692" stroke="none" stroke-width="0"/>
<line x1="72.89999999999999" y1="205.5" x2="84.7" y2="205.5" stroke="#143e6a" stroke-width="0.7"/>
<circle cx="78.8" cy="205.8" r="0.85" fill="#222"/>
<line x1="96.9" y1="213.5" x2="96.9" y2="223.0" stroke="#3a3a3a" stroke-width="1.0"/>
<line x1="96.9" y1="229.4" x2="96.9" y2="235.4" stroke="#3a3a3a" stroke-width="1.0"/>
<line x1="93.80000000000001" y1="213.5" x2="100.0" y2="213.5" stroke="#3a3a3a" stroke-width="1.0"/>
<line x1="93.80000000000001" y1="235.4" x2="100.0" y2="235.4" stroke="#3a3a3a" stroke-width="1.0"/>
<rect x="91.0" y="223.0" width="11.8" height="6.400000000000006" fill="#4dba47" stroke="none" stroke-width="0"/>
<line x1="91.0" y1="226.4" x2="102.80000000000001" y2="226.4" stroke="#2e7e2a" stroke-width="0.7"/>
<circle cx="96.9" cy="226.70000000000002" r="0.85" fill="#222"/>
<line x1="125.9" y1="178.7" x2="125.9" y2="189.0" stroke="#3a3a3a" stroke-width="1.0"/>
<line x1="125.9" y1="199.6" x2="125.9" y2="209.5" stroke="#3a3a3a" stroke-width="1.0"/>
<line x1="122.80000000000001" y1="178.7" x2="129.0" y2="178.7" stroke="#3a3a3a" stroke-width="1.0"/>
<line x1="122.80000000000001" y1="209.5" x2="129.0" y2="209.5" stroke="#3a3a3a" stroke-width="1.0"/>
<rect x="120.0" y="189.0" width="11.8" height="10.599999999999994" fill="#d2123d" stroke="none" stroke-width="0"/>
<line x1="120.0" y1="193.6" x2="131.8" y2="193.6" stroke="#8e0c2a" stroke-width="0.7"/>
<circle cx="125.9" cy="193.9" r="0.85" fill="#222"/>
<line x1="144.0" y1="190.8" x2="144.0" y2="201.7" stroke="#3a3a3a" stroke-width="1.0"/>
<line x1="144.0" y1="209.7" x2="144.0" y2="220.2" stroke="#3a3a3a" stroke-width="1.0"/>
<line x1="140.9" y1="190.8" x2="147.1" y2="190.8" stroke="#3a3a3a" stroke-width="1.0"/>
<line x1="140.9" y1="220.2" x2="147.1" y2="220.2" stroke="#3a3a3a" stroke-width="1.0"/>
<rect x="138.1" y="201.7" width="11.8" height="8.0" fill="#1c5692" stroke="none" stroke-width="0"/>
<line x1="138.1" y1="205.5" x2="149.9" y2="205.5" stroke="#143e6a" stroke-width="0.7"/>
<circle cx="144.0" cy="205.8" r="0.85" fill="#222"/>
<line x1="162.3" y1="213.5" x2="162.3" y2="223.0" stroke="#3a3a3a" stroke-width="1.0"/>
<line x1="162.3" y1="229.4" x2="162.3" y2="235.4" stroke="#3a3a3a" stroke-width="1.0"/>
<line x1="159.20000000000002" y1="213.5" x2="165.4" y2="213.5" stroke="#3a3a3a" stroke-width="1.0"/>
<line x1="159.20000000000002" y1="235.4" x2="165.4" y2="235.4" stroke="#3a3a3a" stroke-width="1.0"/>
<rect x="156.4" y="223.0" width="11.8" height="6.400000000000006" fill="#4dba47" stroke="none" stroke-width="0"/>
<line x1="156.4" y1="226.4" x2="168.20000000000002" y2="226.4" stroke="#2e7e2a" stroke-width="0.7"/>
<circle cx="162.3" cy="226.70000000000002" r="0.85" fill="#222"/>
<line x1="190.9" y1="178.7" x2="190.9" y2="189.0" stroke="#3a3a3a" stroke-width="1.0"/>
<line x1="190.9" y1="199.6" x2="190.9" y2="209.5" stroke="#3a3a3a" stroke-width="1.0"/>
<line x1="187.8" y1="178.7" x2="194.0" y2="178.7" stroke="#3a3a3a" stroke-width="1.0"/>
<line x1="187.8" y1="209.5" x2="194.0" y2="209.5" stroke="#3a3a3a" stroke-width="1.0"/>
<rect x="185.0" y="189.0" width="11.8" height="10.599999999999994" fill="#d2123d" stroke="none" stroke-width="0"/>
<line x1="185.0" y1="193.6" x2="196.8" y2="193.6" stroke="#8e0c2a" stroke-width="0.7"/>
<circle cx="190.9" cy="193.9" r="0.85" fill="#222"/>
<line x1="209.5" y1="190.8" x2="209.5" y2="201.7" stroke="#3a3a3a" stroke-width="1.0"/>
<line x1="209.5" y1="209.7" x2="209.5" y2="220.2" stroke="#3a3a3a" stroke-width="1.0"/>
<line x1="206.4" y1="190.8" x2="212.6" y2="190.8" stroke="#3a3a3a" stroke-width="1.0"/>
<line x1="206.4" y1="220.2" x2="212.6" y2="220.2" stroke="#3a3a3a" stroke-width="1.0"/>
<rect x="203.6" y="201.7" width="11.8" height="8.0" fill="#1c5692" stroke="none" stroke-width="0"/>
<line x1="203.6" y1="205.5" x2="215.4" y2="205.5" stroke="#143e6a" stroke-width="0.7"/>
<circle cx="209.5" cy="205.8" r="0.85" fill="#222"/>
<line x1="227.6" y1="213.5" x2="227.6" y2="223.0" stroke="#3a3a3a" stroke-width="1.0"/>
<line x1="227.6" y1="229.4" x2="227.6" y2="235.4" stroke="#3a3a3a" stroke-width="1.0"/>
<line x1="224.5" y1="213.5" x2="230.7" y2="213.5" stroke="#3a3a3a" stroke-width="1.0"/>
<line x1="224.5" y1="235.4" x2="230.7" y2="235.4" stroke="#3a3a3a" stroke-width="1.0"/>
<rect x="221.7" y="223.0" width="11.8" height="6.400000000000006" fill="#4dba47" stroke="none" stroke-width="0"/>
<line x1="221.7" y1="226.4" x2="233.5" y2="226.4" stroke="#2e7e2a" stroke-width="0.7"/>
<circle cx="227.6" cy="226.70000000000002" r="0.85" fill="#222"/>
<line x1="256.5" y1="178.7" x2="256.5" y2="189.0" stroke="#3a3a3a" stroke-width="1.0"/>
<line x1="256.5" y1="199.6" x2="256.5" y2="209.5" stroke="#3a3a3a" stroke-width="1.0"/>
<line x1="253.4" y1="178.7" x2="259.6" y2="178.7" stroke="#3a3a3a" stroke-width="1.0"/>
<line x1="253.4" y1="209.5" x2="259.6" y2="209.5" stroke="#3a3a3a" stroke-width="1.0"/>
<rect x="250.6" y="189.0" width="11.8" height="10.599999999999994" fill="#d2123d" stroke="none" stroke-width="0"/>
<line x1="250.6" y1="193.6" x2="262.4" y2="193.6" stroke="#8e0c2a" stroke-width="0.7"/>
<circle cx="256.5" cy="193.9" r="0.85" fill="#222"/>
<line x1="274.9" y1="190.8" x2="274.9" y2="201.7" stroke="#3a3a3a" stroke-width="1.0"/>
<line x1="274.9" y1="209.7" x2="274.9" y2="220.2" stroke="#3a3a3a" stroke-width="1.0"/>
<line x1="271.79999999999995" y1="190.8" x2="278.0" y2="190.8" stroke="#3a3a3a" stroke-width="1.0"/>
<line x1="271.79999999999995" y1="220.2" x2="278.0" y2="220.2" stroke="#3a3a3a" stroke-width="1.0"/>
<rect x="269.0" y="201.7" width="11.8" height="8.0" fill="#1c5692" stroke="none" stroke-width="0"/>
<line x1="269.0" y1="205.5" x2="280.79999999999995" y2="205.5" stroke="#143e6a" stroke-width="0.7"/>
<circle cx="274.9" cy="205.8" r="0.85" fill="#222"/>
<line x1="293.2" y1="213.5" x2="293.2" y2="223.0" stroke="#3a3a3a" stroke-width="1.0"/>
<line x1="293.2" y1="229.4" x2="293.2" y2="235.4" stroke="#3a3a3a" stroke-width="1.0"/>
<line x1="290.09999999999997" y1="213.5" x2="296.3" y2="213.5" stroke="#3a3a3a" stroke-width="1.0"/>
<line x1="290.09999999999997" y1="235.4" x2="296.3" y2="235.4" stroke="#3a3a3a" stroke-width="1.0"/>
<rect x="287.3" y="223.0" width="11.8" height="6.400000000000006" fill="#4dba47" stroke="none" stroke-width="0"/>
<line x1="287.3" y1="226.4" x2="299.09999999999997" y2="226.4" stroke="#2e7e2a" stroke-width="0.7"/>
<circle cx="293.2" cy="226.70000000000002" r="0.85" fill="#222"/>
<line x1="321.7" y1="178.7" x2="321.7" y2="189.0" stroke="#3a3a3a" stroke-width="1.0"/>
<line x1="321.7" y1="199.6" x2="321.7" y2="209.5" stroke="#3a3a3a" stroke-width="1.0"/>
<line x1="318.59999999999997" y1="178.7" x2="324.8" y2="178.7" stroke="#3a3a3a" stroke-width="1.0"/>
<line x1="318.59999999999997" y1="209.5" x2="324.8" y2="209.5" stroke="#3a3a3a" stroke-width="1.0"/>
<rect x="315.8" y="189.0" width="11.8" height="10.599999999999994" fill="#d2123d" stroke="none" stroke-width="0"/>
<line x1="315.8" y1="193.6" x2="327.59999999999997" y2="193.6" stroke="#8e0c2a" stroke-width="0.7"/>
<circle cx="321.7" cy="193.9" r="0.85" fill="#222"/>
<line x1="340.1" y1="190.8" x2="340.1" y2="201.7" stroke="#3a3a3a" stroke-width="1.0"/>
<line x1="340.1" y1="209.7" x2="340.1" y2="220.2" stroke="#3a3a3a" stroke-width="1.0"/>
<line x1="337.0" y1="190.8" x2="343.20000000000005" y2="190.8" stroke="#3a3a3a" stroke-width="1.0"/>
<line x1="337.0" y1="220.2" x2="343.20000000000005" y2="220.2" stroke="#3a3a3a" stroke-width="1.0"/>
<rect x="334.20000000000005" y="201.7" width="11.8" height="8.0" fill="#1c5692" stroke="none" stroke-width="0"/>
<line x1="334.20000000000005" y1="205.5" x2="346.0" y2="205.5" stroke="#143e6a" stroke-width="0.7"/>
<circle cx="340.1" cy="205.8" r="0.85" fill="#222"/>
<line x1="358.4" y1="213.5" x2="358.4" y2="223.0" stroke="#3a3a3a" stroke-width="1.0"/>
<line x1="358.4" y1="229.4" x2="358.4" y2="235.4" stroke="#3a3a3a" stroke-width="1.0"/>
<line x1="355.29999999999995" y1="213.5" x2="361.5" y2="213.5" stroke="#3a3a3a" stroke-width="1.0"/>
<line x1="355.29999999999995" y1="235.4" x2="361.5" y2="235.4" stroke="#3a3a3a" stroke-width="1.0"/>
<rect x="352.5" y="223.0" width="11.8" height="6.400000000000006" fill="#4dba47" stroke="none" stroke-width="0"/>
<line x1="352.5" y1="226.4" x2="364.29999999999995" y2="226.4" stroke="#2e7e2a" stroke-width="0.7"/>
<circle cx="358.4" cy="226.70000000000002" r="0.85" fill="#222"/>
<rect x="59.0" y="220.9" width="2.6" height="9.7" fill="#3a3a3a"/>
<rect x="59.699999999999996" y="222.1" width="1.2" height="1" fill="#aaa"/>
<rect x="59.699999999999996" y="224.5" width="1.2" height="1" fill="#aaa"/>
<rect x="59.699999999999996" y="226.9" width="1.2" height="1" fill="#aaa"/>
<rect x="58.5" y="230.6" width="3.6" height="4.2" fill="#6a6a6a"/>
<rect x="59.5" y="231.6" width="1.6" height="1.4" fill="#ccc"/>
<path d="M57.70,234.60 L57.30,236.00 L56.70,238.40 L54.90,239.20 L54.00,243.40 L66.60,243.40 L65.70,239.20 L63.90,238.40 L63.30,236.00 L62.90,234.60 Z" fill="#1e1e1e" stroke="#1e1e1e" stroke-width="0.4" stroke-linejoin="round"/>
<rect x="57.099999999999994" y="240.1" width="1.4" height="1" fill="#8a8a8a"/>
<rect x="62.199999999999996" y="240.7" width="1.4" height="1" fill="#8a8a8a"/>
<rect x="59.599999999999994" y="236.5" width="1.4" height="1" fill="#8a8a8a"/>
<rect x="55.39999999999999" y="241.9" width="1.4" height="1" fill="#8a8a8a"/>
<rect x="64.0" y="241.5" width="1.4" height="1" fill="#8a8a8a"/>
<rect x="60.39999999999999" y="239.5" width="1.4" height="1" fill="#8a8a8a"/>
<path d="M77.60,234.60 L76.50,235.30 L76.40,236.60 L77.20,237.50 L80.40,237.50 L81.20,236.60 L81.10,235.30 L80.00,234.60 Z" fill="#1e1e1e" stroke="#1e1e1e" stroke-width="0.4" stroke-linejoin="round"/>
<path d="M76.20,238.00 L74.20,238.80 L73.00,240.20 L72.70,243.40 L84.90,243.40 L84.60,240.20 L83.40,238.80 L81.40,238.00 Z" fill="#1e1e1e" stroke="#1e1e1e" stroke-width="0.4" stroke-linejoin="round"/>
<rect x="76.2" y="240.4" width="1.6" height="1" fill="#888"/>
<rect x="80.2" y="241.2" width="1.6" height="1" fill="#888"/>
<line x1="94.7" y1="234.8" x2="99.10000000000001" y2="234.8" stroke="#111" stroke-width="1.3"/>
<line x1="96.9" y1="235.3" x2="96.9" y2="239.0" stroke="#1e1e1e" stroke-width="1.6"/>
<path d="M95.10,239.00 L93.30,239.60 L91.90,241.00 L91.10,243.40 L102.70,243.40 L101.90,241.00 L100.50,239.60 L98.70,239.00 Z" fill="#1e1e1e" stroke="#1e1e1e" stroke-width="0.4" stroke-linejoin="round"/>
<rect x="93.9" y="241.4" width="1.4" height="0.9" fill="#888"/>
<line x1="122.80000000000001" y1="209.5" x2="129.0" y2="209.5" stroke="#111" stroke-width="1.3"/>
<path d="M123.35000000000001,219.6 L123.35000000000001,211.6 Q123.35000000000001,210 125.9,210 Q128.45000000000002,210 128.45000000000002,211.6 L128.45000000000002,219.6 Z" fill="#fff" stroke="#222" stroke-width="0.7"/>
<rect x="124.5" y="211.20000000000002" width="2.8" height="2.2" fill="none" stroke="#666" stroke-width="0.5"/>
<rect x="124.5" y="213.9" width="2.8" height="2.2" fill="none" stroke="#666" stroke-width="0.5"/>
<rect x="124.5" y="216.6" width="2.8" height="2.2" fill="none" stroke="#666" stroke-width="0.5"/>
<line x1="123.2" y1="219.9" x2="128.6" y2="219.9" stroke="#111" stroke-width="1.2"/>
<rect x="123.9" y="221.3" width="4.0" height="2.2" fill="none" stroke="#333" stroke-width="0.6"/>
<path d="M124.40,224.00 L122.10,233.60 L119.70,242.60 L132.10,242.60 L129.70,233.60 L127.40,224.00 Z" fill="white" stroke="#222" stroke-width="0.7" stroke-linejoin="round"/>
<line x1="125.9" y1="224.5" x2="125.9" y2="242.5" stroke="#777" stroke-width="0.6"/>
<path d="M122.30,233.20 L121.30,235.60 L130.50,235.60 L129.50,233.20 Z" fill="#1a1a1a" stroke="#1a1a1a" stroke-width="0.5" stroke-linejoin="round"/>
<path d="M120.90,238.20 L120.50,239.40 L131.30,239.40 L130.90,238.20 Z" fill="#666" stroke="#666" stroke-width="0.4" stroke-linejoin="round"/>
<path d="M120.20,241.00 L119.60,243.40 L132.20,243.40 L131.60,241.00 Z" fill="#1a1a1a" stroke="#1a1a1a" stroke-width="0.5" stroke-linejoin="round"/>
<circle cx="144.0" cy="224.4" r="1.2" fill="#aaa" stroke="#666" stroke-width="0.5"/>
<circle cx="144.0" cy="226.6" r="1.2" fill="#aaa" stroke="#666" stroke-width="0.5"/>
<circle cx="144.0" cy="228.8" r="1.2" fill="#aaa" stroke="#666" stroke-width="0.5"/>
<circle cx="144.0" cy="230.8" r="1.2" fill="#aaa" stroke="#666" stroke-width="0.5"/>
<path d="M142.40,232.00 L140.40,232.80 L139.40,234.60 L139.60,236.60 L139.20,237.60 L138.20,239.20 L138.00,243.40 L150.00,243.40 L149.80,239.20 L148.80,237.60 L148.40,236.60 L148.60,234.60 L147.60,232.80 L145.60,232.00 Z" fill="#fff" stroke="#1e1e1e" stroke-width="0.7" stroke-linejoin="round"/>
<path d="M142.40,232.00 L140.40,232.80 L139.40,234.60 L139.60,236.20 L148.40,236.20 L148.60,234.60 L147.60,232.80 L145.60,232.00 Z" fill="#1e1e1e" stroke="#1e1e1e" stroke-width="0.4" stroke-linejoin="round"/>
<ellipse cx="144.6" cy="234.4" rx="1.6" ry="0.8" fill="#fff"/>
<path d="M138.40,239.20 L138.00,243.40 L150.00,243.40 L149.60,239.20 Z" fill="#1e1e1e" stroke="#1e1e1e" stroke-width="0.4" stroke-linejoin="round"/>
<rect x="142.2" y="240.6" width="1.4" height="1" fill="#999"/>
<path d="M160.90,234.60 L160.10,235.20 L160.10,236.80 L160.70,237.40 L163.90,237.40 L164.50,236.80 L164.50,235.20 L163.70,234.60 Z" fill="#1e1e1e" stroke="#1e1e1e" stroke-width="0.4" stroke-linejoin="round"/>
<path d="M159.30,237.60 L157.70,238.60 L157.10,240.50 L156.50,243.40 L168.10,243.40 L167.50,240.50 L166.90,238.60 L165.30,237.60 Z" fill="#1e1e1e" stroke="#1e1e1e" stroke-width="0.4" stroke-linejoin="round"/>
<ellipse cx="160.70000000000002" cy="239.4" rx="1.0" ry="0.8" fill="#fff"/>
<ellipse cx="164.5" cy="241.0" rx="1.0" ry="0.7" fill="#999"/>
<rect x="189.70000000000002" y="232.4" width="2.6" height="2.4" fill="#666"/>
<rect x="191.1" y="234.6" width="2.4" height="2.6" fill="#333"/>
<path d="M189.30,238.60 L186.90,239.30 L185.30,240.20 L184.50,243.40 L197.30,243.40 L196.50,240.20 L194.90,239.30 L192.50,238.60 Z" fill="#1e1e1e" stroke="#1e1e1e" stroke-width="0.4" stroke-linejoin="round"/>
<rect x="187.5" y="240.8" width="1.6" height="1" fill="#999"/>
<rect x="192.5" y="241.4" width="1.6" height="1" fill="#999"/>
<path d="M208.30,238.70 L206.50,239.60 L204.90,240.60 L203.70,241.60 L203.50,243.40 L215.50,243.40 L215.30,241.60 L214.10,240.60 L212.50,239.60 L210.70,238.70 Z" fill="#1e1e1e" stroke="#1e1e1e" stroke-width="0.4" stroke-linejoin="round"/>
<path d="M226.40,239.80 L224.40,240.60 L222.00,241.60 L221.40,243.40 L233.80,243.40 L233.20,241.60 L230.80,240.60 L228.80,239.80 Z" fill="#1e1e1e" stroke="#1e1e1e" stroke-width="0.4" stroke-linejoin="round"/>
<line x1="256.5" y1="209.5" x2="256.5" y2="227.5" stroke="#3a3a3a" stroke-width="0.9"/>
<path d="M254.6,209.5 L256.5,207.6 L258.4,209.5 L256.5,211.4 Z" fill="#111"/>
<path d="M255.30,227.40 L253.50,228.30 L252.10,230.00 L250.70,232.60 L250.50,239.40 L251.70,240.80 L253.30,242.20 L259.70,242.20 L261.30,240.80 L262.50,239.40 L262.30,232.60 L260.90,230.00 L259.50,228.30 L257.70,227.40 Z" fill="white" stroke="#222" stroke-width="0.7" stroke-linejoin="round"/>
<line x1="250.7" y1="232.8" x2="262.3" y2="232.8" stroke="#1a1a1a" stroke-width="1.2"/>
<line x1="250.7" y1="235.6" x2="262.3" y2="235.6" stroke="#1a1a1a" stroke-width="1.2"/>
<line x1="250.7" y1="238.4" x2="262.3" y2="238.4" stroke="#1a1a1a" stroke-width="1.2"/>
<rect x="251.65" y="233.29999999999998" width="1.9" height="1.6" fill="none" stroke="#555" stroke-width="0.4"/>
<rect x="251.65" y="235.95" width="1.9" height="1.6" fill="none" stroke="#555" stroke-width="0.4"/>
<rect x="251.65" y="238.6" width="1.9" height="1.6" fill="none" stroke="#555" stroke-width="0.4"/>
<rect x="254.25" y="233.29999999999998" width="1.9" height="1.6" fill="none" stroke="#555" stroke-width="0.4"/>
<rect x="254.25" y="235.95" width="1.9" height="1.6" fill="none" stroke="#555" stroke-width="0.4"/>
<rect x="254.25" y="238.6" width="1.9" height="1.6" fill="none" stroke="#555" stroke-width="0.4"/>
<rect x="256.85" y="233.29999999999998" width="1.9" height="1.6" fill="none" stroke="#555" stroke-width="0.4"/>
<rect x="256.85" y="235.95" width="1.9" height="1.6" fill="none" stroke="#555" stroke-width="0.4"/>
<rect x="256.85" y="238.6" width="1.9" height="1.6" fill="none" stroke="#555" stroke-width="0.4"/>
<rect x="259.45" y="233.29999999999998" width="1.9" height="1.6" fill="none" stroke="#555" stroke-width="0.4"/>
<rect x="259.45" y="235.95" width="1.9" height="1.6" fill="none" stroke="#555" stroke-width="0.4"/>
<rect x="259.45" y="238.6" width="1.9" height="1.6" fill="none" stroke="#555" stroke-width="0.4"/>
<rect x="254.6" y="229.2" width="3.8" height="2.2" fill="none" stroke="#444" stroke-width="0.5"/>
<line x1="256.5" y1="242.2" x2="256.5" y2="244.5" stroke="#222" stroke-width="0.9"/>
<path d="M273.0,190.8 L274.9,188.9 L276.79999999999995,190.8 L274.9,192.7 Z" fill="#111"/>
<line x1="274.9" y1="220.2" x2="274.9" y2="228.5" stroke="#3a3a3a" stroke-width="0.9"/>
<circle cx="274.9" cy="223.6" r="1.2" fill="#fff" stroke="#444" stroke-width="0.6"/>
<circle cx="274.9" cy="226.4" r="1.0" fill="#fff" stroke="#444" stroke-width="0.6"/>
<rect x="273.9" y="228.6" width="2.0" height="2.0" fill="none" stroke="#666" stroke-width="0.5"/>
<path d="M272.90,231.20 L270.50,232.70 L269.00,234.60 L269.70,237.80 L272.50,239.80 L273.90,240.60 L275.90,240.60 L277.30,239.80 L280.10,237.80 L280.80,234.60 L279.30,232.70 L276.90,231.20 Z" fill="white" stroke="#222" stroke-width="0.7" stroke-linejoin="round"/>
<path d="M269.30,234.60 L269.10,236.20 L269.90,237.90 L270.90,238.60 L278.90,238.60 L279.90,237.90 L280.70,236.20 L280.50,234.60 Z" fill="#1a1a1a" stroke="#1a1a1a" stroke-width="0.4" stroke-linejoin="round"/>
<ellipse cx="274.9" cy="236.3" rx="2.4" ry="0.8" fill="#777"/>
<circle cx="273.29999999999995" cy="233.0" r="0.95" fill="#fff" stroke="#333" stroke-width="0.5"/>
<circle cx="276.5" cy="233.0" r="0.95" fill="#fff" stroke="#333" stroke-width="0.5"/>
<circle cx="274.9" cy="231.8" r="0.95" fill="#fff" stroke="#333" stroke-width="0.5"/>
<line x1="274.9" y1="240.4" x2="274.9" y2="244.8" stroke="#222" stroke-width="0.9"/>
<path d="M273.59999999999997,243.8 L274.9,242.3 L276.2,243.8 L274.9,245.3 Z" fill="#1a1a1a"/>
<path d="M291.40,235.40 L289.60,236.20 L288.20,238.00 L287.30,240.00 L287.10,243.40 L299.30,243.40 L299.10,240.00 L298.20,238.00 L296.80,236.20 L295.00,235.40 Z" fill="#1a1a1a" stroke="#1a1a1a" stroke-width="0.5" stroke-linejoin="round"/>
<ellipse cx="294.4" cy="238.6" rx="1.2" ry="0.8" fill="#fff"/>
<ellipse cx="291.2" cy="240.2" rx="1.1" ry="0.8" fill="#888"/>
<circle cx="320.0" cy="226.4" r="1.35" fill="#fff" stroke="#333" stroke-width="0.6"/>
<circle cx="323.59999999999997" cy="226.0" r="1.35" fill="#fff" stroke="#333" stroke-width="0.6"/>
<circle cx="321.9" cy="228.6" r="1.35" fill="#fff" stroke="#333" stroke-width="0.6"/>
<circle cx="320.5" cy="231.0" r="1.35" fill="#fff" stroke="#333" stroke-width="0.6"/>
<circle cx="323.09999999999997" cy="231.4" r="1.35" fill="#fff" stroke="#333" stroke-width="0.6"/>
<path d="M319.10,232.00 L317.10,233.00 L315.70,235.00 L315.50,239.50 L316.50,241.00 L317.70,242.60 L325.70,242.60 L326.90,241.00 L327.90,239.50 L327.70,235.00 L326.30,233.00 L324.30,232.00 Z" fill="white" stroke="#222" stroke-width="0.75" stroke-linejoin="round"/>
<line x1="315.8" y1="235.2" x2="327.59999999999997" y2="235.2" stroke="#1a1a1a" stroke-width="1.3"/>
<line x1="315.7" y1="238.3" x2="327.7" y2="238.3" stroke="#333" stroke-width="0.8"/>
<line x1="316.9" y1="241.6" x2="326.5" y2="241.6" stroke="#1a1a1a" stroke-width="1.3"/>
<rect x="317.2" y="236.0" width="1.8" height="1.5" fill="none" stroke="#555" stroke-width="0.4"/>
<rect x="319.6" y="236.0" width="1.8" height="1.5" fill="none" stroke="#555" stroke-width="0.4"/>
<rect x="322.0" y="236.0" width="1.8" height="1.5" fill="none" stroke="#555" stroke-width="0.4"/>
<rect x="324.40000000000003" y="236.0" width="1.8" height="1.5" fill="none" stroke="#555" stroke-width="0.4"/>
<line x1="321.7" y1="242.6" x2="321.7" y2="244.5" stroke="#222" stroke-width="0.9"/>
<path d="M338.8,234.6 L340.1,233.2 L341.40000000000003,234.6 L340.1,236.0 Z" fill="#fff" stroke="#333" stroke-width="0.6"/>
<path d="M338.70,237.40 L336.50,238.40 L334.70,240.20 L334.10,243.20 L346.10,243.20 L345.50,240.20 L343.70,238.40 L341.50,237.40 Z" fill="#1a1a1a" stroke="#1a1a1a" stroke-width="0.5" stroke-linejoin="round"/>
<ellipse cx="339.6" cy="239.6" rx="2.4" ry="0.8" fill="#fff"/>
<path d="M356.40,239.00 L354.60,239.60 L353.00,240.80 L352.40,242.00 L352.20,243.60 L364.60,243.60 L364.40,242.00 L363.80,240.80 L362.20,239.60 L360.40,239.00 Z" fill="#1a1a1a" stroke="#1a1a1a" stroke-width="0.5" stroke-linejoin="round"/>
<ellipse cx="360.0" cy="241.0" rx="1.0" ry="0.7" fill="#888"/>
<line x1="48.0" y1="288.7" x2="48.0" y2="372.1" stroke="#3a3a3a" stroke-width="1.3"/>
<line x1="45.4" y1="371.5" x2="48.0" y2="371.5" stroke="#3a3a3a" stroke-width="1.1"/>
<text x="42.8" y="373.7" font-size="6.3" text-anchor="end" font-weight="normal" fill="#333" >0</text>
<line x1="45.4" y1="355.24" x2="48.0" y2="355.24" stroke="#3a3a3a" stroke-width="1.1"/>
<text x="42.8" y="357.44" font-size="6.3" text-anchor="end" font-weight="normal" fill="#333" >20</text>
<line x1="45.4" y1="338.98" x2="48.0" y2="338.98" stroke="#3a3a3a" stroke-width="1.1"/>
<text x="42.8" y="341.18" font-size="6.3" text-anchor="end" font-weight="normal" fill="#333" >40</text>
<line x1="45.4" y1="322.72" x2="48.0" y2="322.72" stroke="#3a3a3a" stroke-width="1.1"/>
<text x="42.8" y="324.92" font-size="6.3" text-anchor="end" font-weight="normal" fill="#333" >60</text>
<line x1="45.4" y1="306.46000000000004" x2="48.0" y2="306.46000000000004" stroke="#3a3a3a" stroke-width="1.1"/>
<text x="42.8" y="308.66" font-size="6.3" text-anchor="end" font-weight="normal" fill="#333" >80</text>
<line x1="45.4" y1="290.20000000000005" x2="48.0" y2="290.20000000000005" stroke="#3a3a3a" stroke-width="1.1"/>
<text x="42.8" y="292.40000000000003" font-size="6.3" text-anchor="end" font-weight="normal" fill="#333" >100</text>
<line x1="48.0" y1="371.5" x2="113.5" y2="371.5" stroke="#3a3a3a" stroke-width="1.4"/>
<line x1="60.2" y1="371.5" x2="60.2" y2="374.1" stroke="#3a3a3a" stroke-width="1.1"/>
<line x1="78.4" y1="371.5" x2="78.4" y2="374.1" stroke="#3a3a3a" stroke-width="1.1"/>
<line x1="96.7" y1="371.5" x2="96.7" y2="374.1" stroke="#3a3a3a" stroke-width="1.1"/>
<text x="80.7" y="272.2" font-size="8.4" text-anchor="middle" font-weight="normal" fill="#222" textLength="19.0" lengthAdjust="spacingAndGlyphs" >FHL2</text>
<text x="80.7" y="282.5" font-size="8.4" text-anchor="middle" font-weight="normal" fill="#222" textLength="29.4" lengthAdjust="spacingAndGlyphs" >(n = 30)</text>
<line x1="113.5" y1="288.7" x2="113.5" y2="372.1" stroke="#3a3a3a" stroke-width="1.3"/>
<line x1="110.9" y1="371.5" x2="113.5" y2="371.5" stroke="#3a3a3a" stroke-width="1.1"/>
<line x1="110.9" y1="355.24" x2="113.5" y2="355.24" stroke="#3a3a3a" stroke-width="1.1"/>
<line x1="110.9" y1="338.98" x2="113.5" y2="338.98" stroke="#3a3a3a" stroke-width="1.1"/>
<line x1="110.9" y1="322.72" x2="113.5" y2="322.72" stroke="#3a3a3a" stroke-width="1.1"/>
<line x1="110.9" y1="306.46000000000004" x2="113.5" y2="306.46000000000004" stroke="#3a3a3a" stroke-width="1.1"/>
<line x1="110.9" y1="290.20000000000005" x2="113.5" y2="290.20000000000005" stroke="#3a3a3a" stroke-width="1.1"/>
<line x1="113.5" y1="371.5" x2="179.2" y2="371.5" stroke="#3a3a3a" stroke-width="1.4"/>
<line x1="125.9" y1="371.5" x2="125.9" y2="374.1" stroke="#3a3a3a" stroke-width="1.1"/>
<line x1="143.8" y1="371.5" x2="143.8" y2="374.1" stroke="#3a3a3a" stroke-width="1.1"/>
<line x1="162.3" y1="371.5" x2="162.3" y2="374.1" stroke="#3a3a3a" stroke-width="1.1"/>
<text x="145.8" y="272.2" font-size="8.4" text-anchor="middle" font-weight="normal" fill="#222" textLength="18.1" lengthAdjust="spacingAndGlyphs" >XLP1</text>
<text x="145.8" y="282.5" font-size="8.4" text-anchor="middle" font-weight="normal" fill="#222" textLength="24.5" lengthAdjust="spacingAndGlyphs" >(n = 8)</text>
<line x1="179.2" y1="288.7" x2="179.2" y2="372.1" stroke="#3a3a3a" stroke-width="1.3"/>
<line x1="176.6" y1="371.5" x2="179.2" y2="371.5" stroke="#3a3a3a" stroke-width="1.1"/>
<line x1="176.6" y1="355.24" x2="179.2" y2="355.24" stroke="#3a3a3a" stroke-width="1.1"/>
<line x1="176.6" y1="338.98" x2="179.2" y2="338.98" stroke="#3a3a3a" stroke-width="1.1"/>
<line x1="176.6" y1="322.72" x2="179.2" y2="322.72" stroke="#3a3a3a" stroke-width="1.1"/>
<line x1="176.6" y1="306.46000000000004" x2="179.2" y2="306.46000000000004" stroke="#3a3a3a" stroke-width="1.1"/>
<line x1="176.6" y1="290.20000000000005" x2="179.2" y2="290.20000000000005" stroke="#3a3a3a" stroke-width="1.1"/>
<line x1="179.2" y1="371.5" x2="244.5" y2="371.5" stroke="#3a3a3a" stroke-width="1.4"/>
<line x1="190.9" y1="371.5" x2="190.9" y2="374.1" stroke="#3a3a3a" stroke-width="1.1"/>
<line x1="209.4" y1="371.5" x2="209.4" y2="374.1" stroke="#3a3a3a" stroke-width="1.1"/>
<line x1="228.1" y1="371.5" x2="228.1" y2="374.1" stroke="#3a3a3a" stroke-width="1.1"/>
<text x="211.6" y="272.2" font-size="8.4" text-anchor="middle" font-weight="normal" fill="#222" textLength="19.2" lengthAdjust="spacingAndGlyphs" >XLP2</text>
<text x="211.6" y="282.5" font-size="8.4" text-anchor="middle" font-weight="normal" fill="#222" textLength="24.8" lengthAdjust="spacingAndGlyphs" >(n = 8)</text>
<line x1="244.5" y1="288.7" x2="244.5" y2="372.1" stroke="#3a3a3a" stroke-width="1.3"/>
<line x1="241.9" y1="371.5" x2="244.5" y2="371.5" stroke="#3a3a3a" stroke-width="1.1"/>
<line x1="241.9" y1="355.24" x2="244.5" y2="355.24" stroke="#3a3a3a" stroke-width="1.1"/>
<line x1="241.9" y1="338.98" x2="244.5" y2="338.98" stroke="#3a3a3a" stroke-width="1.1"/>
<line x1="241.9" y1="322.72" x2="244.5" y2="322.72" stroke="#3a3a3a" stroke-width="1.1"/>
<line x1="241.9" y1="306.46000000000004" x2="244.5" y2="306.46000000000004" stroke="#3a3a3a" stroke-width="1.1"/>
<line x1="241.9" y1="290.20000000000005" x2="244.5" y2="290.20000000000005" stroke="#3a3a3a" stroke-width="1.1"/>
<line x1="244.5" y1="371.5" x2="304.0" y2="371.5" stroke="#3a3a3a" stroke-width="1.4"/>
<line x1="257.0" y1="371.5" x2="257.0" y2="374.1" stroke="#3a3a3a" stroke-width="1.1"/>
<line x1="275.0" y1="371.5" x2="275.0" y2="374.1" stroke="#3a3a3a" stroke-width="1.1"/>
<line x1="293.8" y1="371.5" x2="293.8" y2="374.1" stroke="#3a3a3a" stroke-width="1.1"/>
<text x="275.0" y="272.2" font-size="8.4" text-anchor="middle" font-weight="normal" fill="#222" textLength="34.2" lengthAdjust="spacingAndGlyphs" >Other IEI</text>
<text x="275.0" y="282.5" font-size="8.4" text-anchor="middle" font-weight="normal" fill="#222" textLength="30.1" lengthAdjust="spacingAndGlyphs" >(n = 12)</text>
<text transform="translate(26.7,327.8) rotate(-90)" font-size="7.8" text-anchor="middle" fill="#2a2a2a" stroke="#2a2a2a" stroke-width="0.18" textLength="43.4" lengthAdjust="spacingAndGlyphs">ΔCD107a<tspan dy="-2.4" font-size="4.8">+</tspan><tspan dy="2.4"> (%)</tspan></text>
<text transform="translate(26.7,200.2) rotate(-90)" font-size="7.8" text-anchor="middle" fill="#2a2a2a" stroke="#2a2a2a" stroke-width="0.18" textLength="44.7" lengthAdjust="spacingAndGlyphs">ΔCD107a<tspan dy="-2.4" font-size="4.8">+</tspan><tspan dy="2.4"> (%)</tspan></text>
<path d="M58.40,302.80 L57.40,304.00 L57.40,308.40 L57.20,315.80 L55.60,315.80 L55.60,328.10 L56.00,338.50 L58.40,339.50 L58.40,366.40 L62.00,366.40 L62.00,339.50 L64.40,338.50 L64.80,328.10 L64.80,315.80 L63.20,315.80 L63.00,308.40 L63.00,304.00 L62.00,302.80 Z" fill="white" stroke="#222" stroke-width="0.6" stroke-linejoin="round"/>
<rect x="57.6" y="302.9" width="5.2" height="5.2" fill="#1a1a1a"/>
<rect x="59.0" y="304.2" width="1.2" height="1.2" fill="#999"/>
<rect x="58.0" y="308.6" width="2.0" height="2.0" fill="none" stroke="#222" stroke-width="0.45"/>
<rect x="60.400000000000006" y="308.6" width="2.0" height="2.0" fill="none" stroke="#222" stroke-width="0.45"/>
<rect x="58.0" y="310.9" width="2.0" height="2.0" fill="none" stroke="#222" stroke-width="0.45"/>
<rect x="60.400000000000006" y="310.9" width="2.0" height="2.0" fill="none" stroke="#222" stroke-width="0.45"/>
<rect x="58.0" y="313.2" width="2.0" height="2.0" fill="none" stroke="#222" stroke-width="0.45"/>
<rect x="60.400000000000006" y="313.2" width="2.0" height="2.0" fill="none" stroke="#222" stroke-width="0.45"/>
<rect x="53.800000000000004" y="315.8" width="12.8" height="12.3" fill="#d2123d" stroke="none" stroke-width="0"/>
<rect x="53.800000000000004" y="318.6" width="12.8" height="7.0" fill="#8a0d28"/>
<rect x="54.400000000000006" y="318.4" width="2.0" height="2.0" fill="none" stroke="#1a1a1a" stroke-width="0.45"/>
<rect x="56.800000000000004" y="318.4" width="2.0" height="2.0" fill="none" stroke="#1a1a1a" stroke-width="0.45"/>
<rect x="59.2" y="318.4" width="2.0" height="2.0" fill="none" stroke="#1a1a1a" stroke-width="0.45"/>
<rect x="61.6" y="318.4" width="2.0" height="2.0" fill="none" stroke="#1a1a1a" stroke-width="0.45"/>
<rect x="64.0" y="318.4" width="2.0" height="2.0" fill="none" stroke="#1a1a1a" stroke-width="0.45"/>
<rect x="54.400000000000006" y="320.7" width="2.0" height="2.0" fill="none" stroke="#1a1a1a" stroke-width="0.45"/>
<rect x="56.800000000000004" y="320.7" width="2.0" height="2.0" fill="none" stroke="#1a1a1a" stroke-width="0.45"/>
<rect x="59.2" y="320.7" width="2.0" height="2.0" fill="none" stroke="#1a1a1a" stroke-width="0.45"/>
<rect x="61.6" y="320.7" width="2.0" height="2.0" fill="none" stroke="#1a1a1a" stroke-width="0.45"/>
<rect x="64.0" y="320.7" width="2.0" height="2.0" fill="none" stroke="#1a1a1a" stroke-width="0.45"/>
<rect x="54.400000000000006" y="323.0" width="2.0" height="2.0" fill="none" stroke="#1a1a1a" stroke-width="0.45"/>
<rect x="56.800000000000004" y="323.0" width="2.0" height="2.0" fill="none" stroke="#1a1a1a" stroke-width="0.45"/>
<rect x="59.2" y="323.0" width="2.0" height="2.0" fill="none" stroke="#1a1a1a" stroke-width="0.45"/>
<rect x="61.6" y="323.0" width="2.0" height="2.0" fill="none" stroke="#1a1a1a" stroke-width="0.45"/>
<rect x="64.0" y="323.0" width="2.0" height="2.0" fill="none" stroke="#1a1a1a" stroke-width="0.45"/>
<line x1="53.800000000000004" y1="322.4" x2="66.60000000000001" y2="322.4" stroke="#111" stroke-width="0.8"/>
<rect x="56.6" y="329.0" width="2.0" height="2.0" fill="none" stroke="#222" stroke-width="0.45"/>
<rect x="59.2" y="329.0" width="2.0" height="2.0" fill="none" stroke="#222" stroke-width="0.45"/>
<rect x="61.800000000000004" y="329.0" width="2.0" height="2.0" fill="none" stroke="#222" stroke-width="0.45"/>
<rect x="56.6" y="331.5" width="2.0" height="2.0" fill="none" stroke="#222" stroke-width="0.45"/>
<rect x="59.2" y="331.5" width="2.0" height="2.0" fill="none" stroke="#222" stroke-width="0.45"/>
<rect x="61.800000000000004" y="331.5" width="2.0" height="2.0" fill="none" stroke="#222" stroke-width="0.45"/>
<rect x="56.6" y="334.0" width="2.0" height="2.0" fill="none" stroke="#222" stroke-width="0.45"/>
<rect x="59.2" y="334.0" width="2.0" height="2.0" fill="none" stroke="#222" stroke-width="0.45"/>
<rect x="61.800000000000004" y="334.0" width="2.0" height="2.0" fill="none" stroke="#222" stroke-width="0.45"/>
<rect x="56.6" y="336.3" width="2.0" height="2.0" fill="none" stroke="#222" stroke-width="0.45"/>
<rect x="59.2" y="336.3" width="2.0" height="2.0" fill="none" stroke="#222" stroke-width="0.45"/>
<rect x="61.800000000000004" y="336.3" width="2.0" height="2.0" fill="none" stroke="#222" stroke-width="0.45"/>
<rect x="59.25" y="340.05" width="1.9" height="1.9" fill="none" stroke="#333" stroke-width="0.45"/>
<rect x="59.25" y="343.05" width="1.9" height="1.9" fill="none" stroke="#333" stroke-width="0.45"/>
<rect x="59.25" y="346.05" width="1.9" height="1.9" fill="none" stroke="#333" stroke-width="0.45"/>
<rect x="59.25" y="349.05" width="1.9" height="1.9" fill="none" stroke="#333" stroke-width="0.45"/>
<rect x="59.25" y="352.05" width="1.9" height="1.9" fill="none" stroke="#333" stroke-width="0.45"/>
<rect x="59.25" y="355.05" width="1.9" height="1.9" fill="none" stroke="#333" stroke-width="0.45"/>
<rect x="59.25" y="358.05" width="1.9" height="1.9" fill="none" stroke="#333" stroke-width="0.45"/>
<rect x="59.25" y="361.05" width="1.9" height="1.9" fill="none" stroke="#333" stroke-width="0.45"/>
<rect x="59.25" y="364.05" width="1.9" height="1.9" fill="none" stroke="#333" stroke-width="0.45"/>
<rect x="59.25" y="295.90" width="1.9" height="1.8" rx="0.5" fill="#464646"/>
<path d="M77.80,300.90 L76.60,303.50 L76.40,317.30 L75.90,318.30 L72.20,326.00 L72.20,337.60 L73.40,343.50 L72.90,349.60 L78.10,370.60 L78.70,370.60 L83.90,349.60 L83.40,343.50 L84.60,337.60 L84.60,326.00 L80.90,318.30 L80.40,317.30 L80.20,303.50 L79.00,300.90 Z" fill="white" stroke="#222" stroke-width="0.6" stroke-linejoin="round"/>
<circle cx="78.4" cy="304.5" r="1.0" fill="none" stroke="#333" stroke-width="0.5"/>
<circle cx="78.4" cy="307.3" r="1.0" fill="none" stroke="#333" stroke-width="0.5"/>
<circle cx="78.4" cy="310.1" r="1.0" fill="none" stroke="#333" stroke-width="0.5"/>
<circle cx="78.4" cy="312.9" r="1.0" fill="none" stroke="#333" stroke-width="0.5"/>
<circle cx="78.4" cy="315.5" r="1.0" fill="none" stroke="#333" stroke-width="0.5"/>
<line x1="75.60000000000001" y1="317.5" x2="81.2" y2="317.5" stroke="#222" stroke-width="1.0"/>
<circle cx="76.9" cy="320.5" r="1.0" fill="none" stroke="#333" stroke-width="0.5"/>
<circle cx="79.9" cy="320.5" r="1.0" fill="none" stroke="#333" stroke-width="0.5"/>
<circle cx="75.4" cy="323.5" r="1.0" fill="none" stroke="#333" stroke-width="0.5"/>
<circle cx="78.4" cy="323.5" r="1.0" fill="none" stroke="#333" stroke-width="0.5"/>
<circle cx="81.4" cy="323.5" r="1.0" fill="none" stroke="#333" stroke-width="0.5"/>
<rect x="72.2" y="326.0" width="12.4" height="11.6" fill="#184a7e" stroke="none" stroke-width="0"/>
<rect x="72.2" y="326.0" width="12.4" height="3.0" fill="#101d30"/>
<rect x="73.00000000000001" y="326.7" width="1.6" height="1.6" fill="none" stroke="#5a6a80" stroke-width="0.45"/>
<rect x="75.30000000000001" y="326.7" width="1.6" height="1.6" fill="none" stroke="#5a6a80" stroke-width="0.45"/>
<rect x="77.60000000000001" y="326.7" width="1.6" height="1.6" fill="none" stroke="#5a6a80" stroke-width="0.45"/>
<rect x="79.9" y="326.7" width="1.6" height="1.6" fill="none" stroke="#5a6a80" stroke-width="0.45"/>
<rect x="82.2" y="326.7" width="1.6" height="1.6" fill="none" stroke="#5a6a80" stroke-width="0.45"/>
<rect x="72.2" y="331.5" width="12.4" height="4.0" fill="#173a66"/>
<circle cx="76.4" cy="340" r="1.0" fill="none" stroke="#333" stroke-width="0.5"/>
<circle cx="80.4" cy="340" r="1.0" fill="none" stroke="#333" stroke-width="0.5"/>
<circle cx="78.4" cy="342.5" r="1.0" fill="none" stroke="#333" stroke-width="0.5"/>
<circle cx="75.4" cy="345" r="1.0" fill="none" stroke="#333" stroke-width="0.5"/>
<circle cx="81.4" cy="345" r="1.0" fill="none" stroke="#333" stroke-width="0.5"/>
<circle cx="76.9" cy="347.5" r="1.0" fill="none" stroke="#333" stroke-width="0.5"/>
<circle cx="79.9" cy="347.5" r="1.0" fill="none" stroke="#333" stroke-width="0.5"/>
<line x1="73.0" y1="349.4" x2="83.80000000000001" y2="349.4" stroke="#1a1a1a" stroke-width="1.2"/>
<circle cx="78.4" cy="353.5" r="1.0" fill="none" stroke="#333" stroke-width="0.5"/>
<circle cx="76.60000000000001" cy="357.0" r="1.0" fill="none" stroke="#333" stroke-width="0.5"/>
<circle cx="80.2" cy="357.0" r="1.0" fill="none" stroke="#333" stroke-width="0.5"/>
<circle cx="78.4" cy="360.5" r="1.0" fill="none" stroke="#333" stroke-width="0.5"/>
<circle cx="78.4" cy="364" r="1.0" fill="none" stroke="#333" stroke-width="0.5"/>
<rect x="77.45" y="294.90" width="1.9" height="1.8" rx="0.5" fill="#464646"/>
<path d="M94.30,340.00 L94.10,342.50 L94.90,344.20 L93.70,346.50 L91.70,350.00 L90.90,353.50 L90.90,364.30 L92.90,366.00 L93.70,371.60 L99.70,371.60 L100.50,366.00 L102.50,364.30 L102.50,353.50 L101.70,350.00 L99.70,346.50 L98.50,344.20 L99.30,342.50 L99.10,340.00 Z" fill="#1a1a1a" stroke="#1a1a1a" stroke-width="0.4" stroke-linejoin="round"/>
<rect x="90.9" y="350.2" width="11.6" height="5.6" fill="#4dba47" stroke="none" stroke-width="0"/>
<rect x="90.9" y="353.6" width="11.6" height="1.8" fill="#2d6a2a"/>
<circle cx="92.10000000000001" cy="354.8" r="1.0" fill="#1a1a1a"/>
<circle cx="93.5" cy="351.6" r="1.0" fill="#1a1a1a"/>
<circle cx="98.10000000000001" cy="352.6" r="1.0" fill="#1a1a1a"/>
<circle cx="101.3" cy="355.2" r="1.0" fill="#1a1a1a"/>
<circle cx="95.5" cy="355.3" r="1.0" fill="#1a1a1a"/>
<circle cx="97.7" cy="357.6" r="0.85" fill="#fff"/>
<circle cx="94.10000000000001" cy="359.5" r="0.85" fill="#fff"/>
<circle cx="99.5" cy="361.8" r="0.85" fill="#fff"/>
<circle cx="96.10000000000001" cy="345.0" r="0.85" fill="#fff"/>
<circle cx="97.5" cy="366.5" r="0.85" fill="#fff"/>
<circle cx="94.7" cy="368.6" r="0.85" fill="#fff"/>
<circle cx="92.9" cy="357.4" r="0.85" fill="#fff"/>
<circle cx="100.5" cy="358.4" r="0.85" fill="#fff"/>
<circle cx="95.7" cy="362.4" r="0.85" fill="#fff"/>
<circle cx="98.3" cy="348.2" r="0.85" fill="#fff"/>
<circle cx="94.7" cy="347.6" r="0.85" fill="#fff"/>
<circle cx="93.10000000000001" cy="363.0" r="0.85" fill="#fff"/>
<circle cx="100.10000000000001" cy="364.2" r="0.85" fill="#fff"/>
<circle cx="99.10000000000001" cy="343.6" r="1.0" fill="#1a1a1a"/>
<rect x="95.75" y="329.90" width="1.9" height="1.8" rx="0.5" fill="#464646"/>
<line x1="122.9" y1="306.9" x2="128.9" y2="306.9" stroke="#3a3a3a" stroke-width="1.0"/>
<path d="M125.9,307 L120.30000000000001,316.4 M125.9,307 L131.5,316.4" stroke="#333" stroke-width="0.5" fill="none"/>
<line x1="125.9" y1="306.9" x2="125.9" y2="316.4" stroke="#3a3a3a" stroke-width="0.9"/>
<path d="M124.60000000000001,312 L125.9,310.6 L127.2,312 L125.9,313.4 Z" fill="#333"/>
<rect x="120.10000000000001" y="316.7" width="11.6" height="10.7" fill="#d2123d" stroke="none" stroke-width="0"/>
<rect x="120.10000000000001" y="320.2" width="11.6" height="3.8" fill="#8c0c26"/>
<circle cx="122.30000000000001" cy="322.1" r="0.8" fill="#3a0812"/>
<circle cx="124.7" cy="322.1" r="0.8" fill="#3a0812"/>
<circle cx="127.10000000000001" cy="322.1" r="0.8" fill="#3a0812"/>
<circle cx="129.5" cy="322.1" r="0.8" fill="#3a0812"/>
<path d="M120.30000000000001,327.4 L120.30000000000001,332.6 M131.5,327.4 L131.5,332.6" stroke="#333" stroke-width="0.5"/>
<line x1="120.10000000000001" y1="333.5" x2="131.70000000000002" y2="333.5" stroke="#1a1a1a" stroke-width="1.7"/>
<path d="M120.30,334.30 L122.90,339.90 L123.50,344.90 L121.40,348.30 L121.40,351.80 L130.40,351.80 L130.40,348.30 L128.30,344.90 L128.90,339.90 L131.50,334.30 Z" fill="white" stroke="#222" stroke-width="0.6" stroke-linejoin="round"/>
<circle cx="123.30000000000001" cy="350.2" r="1.1" fill="none" stroke="#333" stroke-width="0.55"/>
<circle cx="125.9" cy="350.2" r="1.1" fill="none" stroke="#333" stroke-width="0.55"/>
<circle cx="128.5" cy="350.2" r="1.1" fill="none" stroke="#333" stroke-width="0.55"/>
<circle cx="125.9" cy="336" r="1.0" fill="none" stroke="#333" stroke-width="0.5"/>
<rect x="123.50" y="299.70" width="1.9" height="1.8" rx="0.5" fill="#464646"/>
<rect x="126.40" y="299.70" width="1.9" height="1.8" rx="0.5" fill="#464646"/>
<line x1="140.8" y1="319.0" x2="146.8" y2="319.0" stroke="#3a3a3a" stroke-width="1.0"/>
<line x1="143.8" y1="319.0" x2="143.8" y2="329.3" stroke="#3a3a3a" stroke-width="0.9"/>
<rect x="138.05" y="329.0" width="11.5" height="9.0" fill="#17406e" stroke="none" stroke-width="0"/>
<rect x="138.05" y="329.0" width="11.5" height="3.0" fill="#0f2a4a"/>
<circle cx="140.20000000000002" cy="333.5" r="0.7" fill="#0a1a30"/>
<circle cx="142.60000000000002" cy="334.2" r="0.7" fill="#0a1a30"/>
<circle cx="145.0" cy="333.5" r="0.7" fill="#0a1a30"/>
<circle cx="147.4" cy="334.2" r="0.7" fill="#0a1a30"/>
<circle cx="141.4" cy="336.3" r="0.7" fill="#0a1a30"/>
<circle cx="146.20000000000002" cy="336.3" r="0.7" fill="#0a1a30"/>
<path d="M138.20000000000002,338 L138.20000000000002,340 M149.4,338 L149.4,340" stroke="#333" stroke-width="0.5"/>
<line x1="138.20000000000002" y1="340.3" x2="149.4" y2="340.3" stroke="#1a1a1a" stroke-width="1.4"/>
<path d="M138.40,341.00 L141.40,345.70 L140.30,350.50 L138.80,355.20 L139.80,359.50 L147.80,359.50 L148.80,355.20 L147.30,350.50 L146.20,345.70 L149.20,341.00 Z" fill="white" stroke="#222" stroke-width="0.6" stroke-linejoin="round"/>
<circle cx="143.8" cy="341.5" r="1.0" fill="none" stroke="#333" stroke-width="0.5"/>
<circle cx="143.8" cy="357.4" r="1.0" fill="none" stroke="#333" stroke-width="0.5"/>
<circle cx="142.20000000000002" cy="343.5" r="1.0" fill="none" stroke="#333" stroke-width="0.5"/>
<circle cx="145.4" cy="343.5" r="1.0" fill="none" stroke="#333" stroke-width="0.5"/>
<circle cx="146.60000000000002" cy="356.2" r="1.0" fill="none" stroke="#333" stroke-width="0.5"/>
<rect x="143.85" y="302.60" width="1.9" height="1.8" rx="0.5" fill="#464646"/>
<line x1="159.70000000000002" y1="341.4" x2="164.9" y2="341.4" stroke="#3a3a3a" stroke-width="1.0"/>
<line x1="162.3" y1="341.4" x2="162.3" y2="350.0" stroke="#3a3a3a" stroke-width="0.9"/>
<rect x="156.4" y="350.0" width="11.8" height="10.4" fill="#4dba47" stroke="none" stroke-width="0"/>
<circle cx="162.3" cy="350.2" r="1.05" fill="#1a1a1a"/>
<circle cx="159.5" cy="353" r="1.05" fill="#1a1a1a"/>
<circle cx="164.9" cy="352.4" r="1.05" fill="#1a1a1a"/>
<circle cx="161.3" cy="355.5" r="1.05" fill="#1a1a1a"/>
<circle cx="165.5" cy="356.2" r="1.05" fill="#1a1a1a"/>
<circle cx="158.5" cy="358.2" r="1.05" fill="#1a1a1a"/>
<circle cx="161.10000000000002" cy="359.4" r="1.05" fill="#1a1a1a"/>
<circle cx="163.70000000000002" cy="359.6" r="1.05" fill="#1a1a1a"/>
<circle cx="165.9" cy="359" r="1.05" fill="#1a1a1a"/>
<text x="162.6" y="331.0" font-size="6.0" text-anchor="middle" font-weight="normal" fill="#444" textLength="8.6" lengthAdjust="spacingAndGlyphs" >n.s.</text>
<line x1="187.9" y1="307.0" x2="193.9" y2="307.0" stroke="#3a3a3a" stroke-width="1.0"/>
<path d="M190.9,307 L185.5,316.5 M190.9,307 L196.3,316.5" stroke="#333" stroke-width="0.5" fill="none"/>
<line x1="190.9" y1="307.0" x2="190.9" y2="316.5" stroke="#3a3a3a" stroke-width="0.9"/>
<rect x="184.8" y="316.5" width="12.2" height="11.0" fill="#d2123d" stroke="none" stroke-width="0"/>
<rect x="184.8" y="320" width="12.2" height="4.4" fill="#9a0f2c"/>
<circle cx="187.3" cy="322.2" r="0.8" fill="#3a0a14"/>
<circle cx="189.70000000000002" cy="322.2" r="0.8" fill="#3a0a14"/>
<circle cx="192.1" cy="322.2" r="0.8" fill="#3a0a14"/>
<circle cx="194.5" cy="322.2" r="0.8" fill="#3a0a14"/>
<path d="M185.1,327.5 L185.1,331.1 M196.70000000000002,327.5 L196.70000000000002,331.1" stroke="#333" stroke-width="0.5"/>
<line x1="185.0" y1="332.0" x2="196.8" y2="332.0" stroke="#1a1a1a" stroke-width="1.8"/>
<path d="M185.40,333.00 L187.40,338.40 L188.40,343.90 L189.10,347.00 L189.10,365.90 L189.70,366.40 L192.10,366.40 L192.70,365.90 L192.70,347.00 L193.40,343.90 L194.40,338.40 L196.40,333.00 Z" fill="white" stroke="#222" stroke-width="0.6" stroke-linejoin="round"/>
<circle cx="190.9" cy="340" r="1.0" fill="none" stroke="#333" stroke-width="0.5"/>
<circle cx="190.9" cy="349.4" r="1.0" fill="none" stroke="#333" stroke-width="0.5"/>
<circle cx="190.9" cy="354.5" r="1.0" fill="none" stroke="#333" stroke-width="0.5"/>
<circle cx="190.9" cy="360.4" r="1.0" fill="none" stroke="#333" stroke-width="0.5"/>
<rect x="188.50" y="300.10" width="1.9" height="1.8" rx="0.5" fill="#464646"/>
<rect x="191.40" y="300.10" width="1.9" height="1.8" rx="0.5" fill="#464646"/>
<line x1="206.4" y1="319.2" x2="212.4" y2="319.2" stroke="#3a3a3a" stroke-width="1.0"/>
<line x1="209.4" y1="319.2" x2="209.4" y2="329.3" stroke="#3a3a3a" stroke-width="0.9"/>
<rect x="203.5" y="329.5" width="11.8" height="8.6" fill="#184a7e" stroke="none" stroke-width="0"/>
<circle cx="205.8" cy="332" r="0.7" fill="#0c2440"/>
<circle cx="208.20000000000002" cy="332.6" r="0.7" fill="#0c2440"/>
<circle cx="210.6" cy="332" r="0.7" fill="#0c2440"/>
<circle cx="213.0" cy="332.6" r="0.7" fill="#0c2440"/>
<circle cx="207.0" cy="335.2" r="0.7" fill="#0c2440"/>
<circle cx="209.4" cy="335.8" r="0.7" fill="#0c2440"/>
<circle cx="211.8" cy="335.2" r="0.7" fill="#0c2440"/>
<path d="M206.40,338.30 L206.40,343.00 L205.20,346.70 L203.40,348.50 L203.40,350.30 L203.90,351.20 L206.80,363.10 L212.00,363.10 L214.90,351.20 L215.40,350.30 L215.40,348.50 L213.60,346.70 L212.40,343.00 L212.40,338.30 Z" fill="white" stroke="#222" stroke-width="0.6" stroke-linejoin="round"/>
<path d="M206.4,338.6 L208.4,342.6 M212.4,338.6 L210.4,342.6" stroke="#1a1a1a" stroke-width="1.0"/>
<circle cx="209.4" cy="339.4" r="1.0" fill="#1a1a1a"/>
<line x1="206.8" y1="342.8" x2="212.0" y2="342.8" stroke="#1a1a1a" stroke-width="1.0"/>
<rect x="203.4" y="348.3" width="12" height="2.2" fill="#1a1a1a"/>
<circle cx="209.4" cy="354.9" r="1.0" fill="none" stroke="#333" stroke-width="0.5"/>
<circle cx="207.8" cy="358.6" r="1.0" fill="none" stroke="#333" stroke-width="0.5"/>
<circle cx="211.0" cy="358.6" r="1.0" fill="none" stroke="#333" stroke-width="0.5"/>
<circle cx="209.4" cy="361.6" r="1.0" fill="none" stroke="#333" stroke-width="0.5"/>
<line x1="205.9" y1="345.0" x2="212.9" y2="345.0" stroke="#333" stroke-width="0.6"/>
<rect x="204.10" y="302.70" width="1.9" height="1.8" rx="0.5" fill="#464646"/>
<rect x="207.00" y="302.70" width="1.9" height="1.8" rx="0.5" fill="#464646"/>
<rect x="209.90" y="302.70" width="1.9" height="1.8" rx="0.5" fill="#464646"/>
<rect x="212.80" y="302.70" width="1.9" height="1.8" rx="0.5" fill="#464646"/>
<line x1="225.5" y1="341.7" x2="230.7" y2="341.7" stroke="#3a3a3a" stroke-width="1.0"/>
<line x1="228.1" y1="341.7" x2="228.1" y2="349.8" stroke="#3a3a3a" stroke-width="0.9"/>
<rect x="222.65" y="349.8" width="10.9" height="10.6" fill="#4dba47" stroke="none" stroke-width="0"/>
<circle cx="228.1" cy="353.0" r="1.1" fill="#1a1a1a"/>
<circle cx="224.5" cy="356.6" r="1.0" fill="#1a1a1a"/>
<circle cx="226.9" cy="356.6" r="1.0" fill="#1a1a1a"/>
<circle cx="229.29999999999998" cy="356.6" r="1.0" fill="#1a1a1a"/>
<circle cx="231.7" cy="356.6" r="1.0" fill="#1a1a1a"/>
<path d="M223.60,359.60 L222.50,361.30 L222.50,365.00 L224.60,366.00 L231.60,366.00 L233.70,365.00 L233.70,361.30 L232.60,359.60 Z" fill="#1a1a1a" stroke="#1a1a1a" stroke-width="0.4" stroke-linejoin="round"/>
<circle cx="225.6" cy="363.0" r="0.9" fill="#fff"/>
<circle cx="228.1" cy="363.0" r="0.9" fill="#fff"/>
<circle cx="230.6" cy="363.0" r="0.9" fill="#fff"/>
<rect x="225.70" y="331.10" width="1.9" height="1.8" rx="0.5" fill="#464646"/>
<rect x="228.60" y="331.10" width="1.9" height="1.8" rx="0.5" fill="#464646"/>
<line x1="253.7" y1="306.6" x2="260.3" y2="306.6" stroke="#3a3a3a" stroke-width="1.0"/>
<line x1="257.0" y1="306.6" x2="257.0" y2="314.1" stroke="#3a3a3a" stroke-width="0.9"/>
<rect x="250.85" y="314.1" width="12.3" height="13.2" fill="#d2123d" stroke="none" stroke-width="0"/>
<rect x="251.3" y="314.5" width="2.4" height="2.2" fill="#e07890" stroke="#4a0814" stroke-width="0.55"/>
<rect x="254.3" y="314.5" width="2.4" height="2.2" fill="#e07890" stroke="#4a0814" stroke-width="0.55"/>
<rect x="257.3" y="314.5" width="2.4" height="2.2" fill="#e07890" stroke="#4a0814" stroke-width="0.55"/>
<rect x="260.3" y="314.5" width="2.4" height="2.2" fill="#e07890" stroke="#4a0814" stroke-width="0.55"/>
<rect x="251.3" y="317.5" width="2.4" height="2.2" fill="#e07890" stroke="#4a0814" stroke-width="0.55"/>
<rect x="254.3" y="317.5" width="2.4" height="2.2" fill="#e07890" stroke="#4a0814" stroke-width="0.55"/>
<rect x="257.3" y="317.5" width="2.4" height="2.2" fill="#e07890" stroke="#4a0814" stroke-width="0.55"/>
<rect x="260.3" y="317.5" width="2.4" height="2.2" fill="#e07890" stroke="#4a0814" stroke-width="0.55"/>
<rect x="251.3" y="320.5" width="2.4" height="2.2" fill="#e07890" stroke="#4a0814" stroke-width="0.55"/>
<rect x="254.3" y="320.5" width="2.4" height="2.2" fill="#e07890" stroke="#4a0814" stroke-width="0.55"/>
<rect x="257.3" y="320.5" width="2.4" height="2.2" fill="#e07890" stroke="#4a0814" stroke-width="0.55"/>
<rect x="260.3" y="320.5" width="2.4" height="2.2" fill="#e07890" stroke="#4a0814" stroke-width="0.55"/>
<rect x="251.3" y="323.5" width="2.4" height="2.2" fill="#e07890" stroke="#4a0814" stroke-width="0.55"/>
<rect x="254.3" y="323.5" width="2.4" height="2.2" fill="#e07890" stroke="#4a0814" stroke-width="0.55"/>
<rect x="257.3" y="323.5" width="2.4" height="2.2" fill="#e07890" stroke="#4a0814" stroke-width="0.55"/>
<rect x="260.3" y="323.5" width="2.4" height="2.2" fill="#e07890" stroke="#4a0814" stroke-width="0.55"/>
<rect x="252.1" y="327.5" width="2.2" height="2.2" fill="none" stroke="#1a1a1a" stroke-width="0.7"/>
<rect x="254.6" y="327.5" width="2.2" height="2.2" fill="none" stroke="#1a1a1a" stroke-width="0.7"/>
<rect x="257.2" y="327.5" width="2.2" height="2.2" fill="none" stroke="#1a1a1a" stroke-width="0.7"/>
<rect x="259.7" y="327.5" width="2.2" height="2.2" fill="none" stroke="#1a1a1a" stroke-width="0.7"/>
<rect x="252.1" y="330.29999999999995" width="2.2" height="2.2" fill="none" stroke="#1a1a1a" stroke-width="0.7"/>
<rect x="254.6" y="330.29999999999995" width="2.2" height="2.2" fill="none" stroke="#1a1a1a" stroke-width="0.7"/>
<rect x="257.2" y="330.29999999999995" width="2.2" height="2.2" fill="none" stroke="#1a1a1a" stroke-width="0.7"/>
<rect x="259.7" y="330.29999999999995" width="2.2" height="2.2" fill="none" stroke="#1a1a1a" stroke-width="0.7"/>
<path d="M253.4,333.5 L260.0,345.2 M260.6,333.5 L254.0,345.2" stroke="#333" stroke-width="0.7" fill="none"/>
<circle cx="254.2" cy="347.6" r="1.3" fill="#fff" stroke="#444" stroke-width="0.6"/>
<circle cx="257.0" cy="347.6" r="1.3" fill="#fff" stroke="#444" stroke-width="0.6"/>
<circle cx="259.8" cy="347.6" r="1.3" fill="#fff" stroke="#444" stroke-width="0.6"/>
<text x="256.0" y="300.6" font-size="6.0" text-anchor="middle" font-weight="normal" fill="#444" textLength="8.2" lengthAdjust="spacingAndGlyphs" >n.s.</text>
<line x1="272.6" y1="318.9" x2="277.4" y2="318.9" stroke="#3a3a3a" stroke-width="1.0"/>
<line x1="275.0" y1="318.9" x2="275.0" y2="348.1" stroke="#3a3a3a" stroke-width="0.9"/>
<circle cx="275.0" cy="322.6" r="1.4" fill="#1a1a1a"/>
<rect x="269.05" y="329.2" width="11.9" height="11.3" fill="#184a7e" stroke="none" stroke-width="0"/>
<rect x="269.05" y="336.5" width="11.9" height="4.0" fill="#12345a"/>
<circle cx="272.4" cy="338.6" r="0.9" fill="#111"/>
<circle cx="275.0" cy="339.6" r="0.9" fill="#111"/>
<circle cx="277.6" cy="338.6" r="0.9" fill="#111"/>
<circle cx="275.0" cy="336.4" r="0.9" fill="#111"/>
<line x1="272.6" y1="348.1" x2="277.4" y2="348.1" stroke="#3a3a3a" stroke-width="1.0"/>
<rect x="274.05" y="303.70" width="1.9" height="1.8" rx="0.5" fill="#464646"/>
<line x1="291.2" y1="341.1" x2="296.40000000000003" y2="341.1" stroke="#3a3a3a" stroke-width="1.0"/>
<line x1="293.8" y1="341.1" x2="293.8" y2="350.5" stroke="#3a3a3a" stroke-width="0.9"/>
<rect x="288.15000000000003" y="350.5" width="11.3" height="5.2" fill="#4dba47" stroke="none" stroke-width="0"/>
<circle cx="289.8" cy="351.3" r="0.8" fill="#1a1a1a"/>
<circle cx="292.40000000000003" cy="351.3" r="0.8" fill="#1a1a1a"/>
<circle cx="295.2" cy="351.3" r="0.8" fill="#1a1a1a"/>
<circle cx="297.8" cy="351.3" r="0.8" fill="#1a1a1a"/>
<rect x="288.15000000000003" y="356.6" width="11.3" height="2.9" fill="#1a1a1a"/>
<rect x="290.45" y="357.40000000000003" width="1.1" height="1.3" fill="#fff"/>
<rect x="293.25" y="357.40000000000003" width="1.1" height="1.3" fill="#fff"/>
<rect x="296.05" y="357.40000000000003" width="1.1" height="1.3" fill="#fff"/>
<rect x="288.15000000000003" y="360.3" width="11.3" height="2.9" fill="#1a1a1a"/>
<rect x="290.45" y="361.1" width="1.1" height="1.3" fill="#fff"/>
<rect x="293.25" y="361.1" width="1.1" height="1.3" fill="#fff"/>
<rect x="296.05" y="361.1" width="1.1" height="1.3" fill="#fff"/>
<rect x="288.15000000000003" y="365.0" width="11.3" height="2.9" fill="#1a1a1a"/>
<rect x="290.45" y="365.8" width="1.1" height="1.3" fill="#fff"/>
<rect x="293.25" y="365.8" width="1.1" height="1.3" fill="#fff"/>
<rect x="296.05" y="365.8" width="1.1" height="1.3" fill="#fff"/>
<rect x="291.40" y="330.40" width="1.9" height="1.8" rx="0.5" fill="#464646"/>
<rect x="294.30" y="330.40" width="1.9" height="1.8" rx="0.5" fill="#464646"/>
<text transform="translate(391.0,248.4) rotate(-90)" font-size="6.4" fill="#333" textLength="22.8" lengthAdjust="spacingAndGlyphs">Patients</text>
<text transform="translate(405.4,248.4) rotate(-90)" font-size="6.4" fill="#333" textLength="40" lengthAdjust="spacingAndGlyphs">Healthy adults</text>
<rect x="387.8" y="253.8" width="4" height="4" fill="#fff" stroke="#222" stroke-width="0.7"/>
<circle cx="389.6" cy="273.0" r="2.1" fill="#fff" stroke="#222" stroke-width="0.7"/>
<circle cx="389.6" cy="290.2" r="2.1" fill="#111"/>
<rect x="399.8" y="252.0" width="5.9" height="5.8" fill="#d2123d" stroke="none" stroke-width="0"/>
<rect x="399.8" y="270.4" width="5.9" height="5.8" fill="#1c5692" stroke="none" stroke-width="0"/>
<rect x="399.8" y="288.0" width="5.9" height="5.8" fill="#4dba47" stroke="none" stroke-width="0"/>
<text x="409.3" y="257.6" font-size="7.1" text-anchor="start" font-weight="normal" fill="#2a2a2a" textLength="56.5" lengthAdjust="spacingAndGlyphs" >CD8<tspan dy="-2.3" font-size="4.8">+</tspan><tspan dy="2.3">CD57</tspan><tspan dy="-2.3" font-size="4.8">+</tspan><tspan dy="2.3"> T cells:</tspan></text>
<text x="409.3" y="265.2" font-size="7.1" text-anchor="start" font-weight="normal" fill="#2a2a2a" textLength="62.2" lengthAdjust="spacingAndGlyphs" >P815 cells + anti-CD3</text>
<text x="409.3" y="275.6" font-size="7.1" text-anchor="start" font-weight="normal" fill="#2a2a2a" textLength="60" lengthAdjust="spacingAndGlyphs" >CD3<tspan dy="-2.3" font-size="4.8">−</tspan><tspan dy="2.3">CD56</tspan><tspan dy="-2.3" font-size="4.8">+</tspan><tspan dy="2.3"> NK cells:</tspan></text>
<text x="409.3" y="283.2" font-size="7.1" text-anchor="start" font-weight="normal" fill="#2a2a2a" textLength="64.8" lengthAdjust="spacingAndGlyphs" >P815 cells + anti-CD16</text>
<text x="409.3" y="293.2" font-size="7.1" text-anchor="start" font-weight="normal" fill="#2a2a2a" textLength="60" lengthAdjust="spacingAndGlyphs" >CD3<tspan dy="-2.3" font-size="4.8">−</tspan><tspan dy="2.3">CD56</tspan><tspan dy="-2.3" font-size="4.8">+</tspan><tspan dy="2.3"> NK cells:</tspan></text>
<text x="409.3" y="300.8" font-size="7.1" text-anchor="start" font-weight="normal" fill="#2a2a2a" textLength="29" lengthAdjust="spacingAndGlyphs" >K562 cells</text>
</svg>
<div class="frame"></div>
</body></html>
